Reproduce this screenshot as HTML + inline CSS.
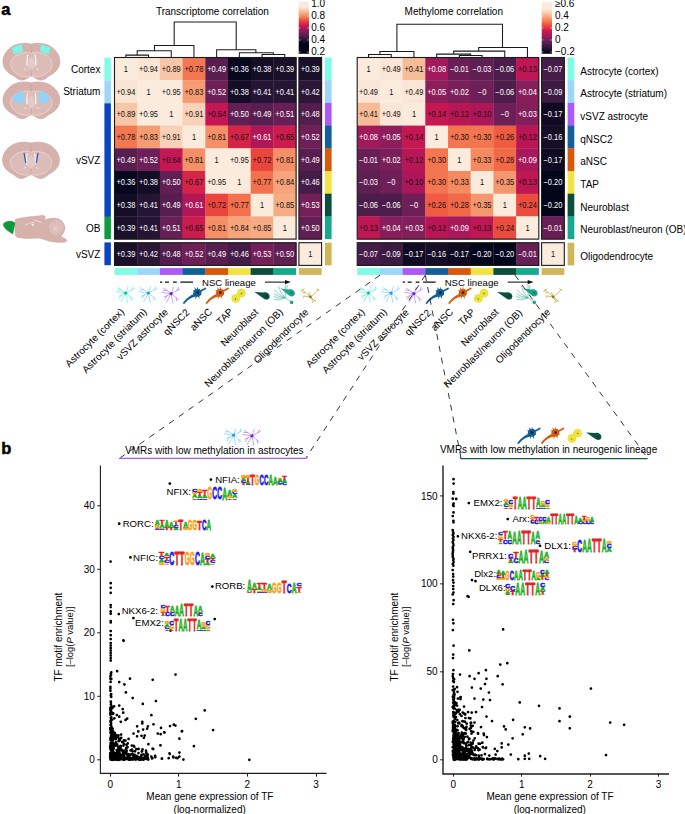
<!DOCTYPE html><html><head><meta charset="utf-8"><style>html,body{margin:0;padding:0;background:#fff;}svg{display:block;}</style></head><body><svg width="685" height="814" viewBox="0 0 685 814">
<style>text{font-family:"Liberation Sans",sans-serif;} .cv{font-size:8.5px;text-anchor:middle;} .cb{font-size:10px;fill:#000;} .t10{font-size:10px;fill:#000;} .lab{font-size:9.6px;fill:#000;}</style>
<rect width="685" height="814" fill="#fff"/>
<text x="1.2" y="15.4" style="font-size:16.5px;font-weight:bold" fill="#000" stroke="#000" stroke-width="0.5">a</text>
<text x="1.2" y="454.2" style="font-size:16.5px;font-weight:bold" fill="#000" stroke="#000" stroke-width="0.5">b</text>
<text x="212.4" y="15.2" class="t10" text-anchor="middle">Transcriptome correlation</text>
<text x="453.8" y="15.2" class="t10" text-anchor="middle">Methylome correlation</text>
<rect x="114.50" y="57.50" width="23.00" height="23.00" fill="#faebdd"/>
<rect x="137.20" y="57.50" width="23.00" height="23.00" fill="#f9e5d4"/>
<rect x="159.90" y="57.50" width="23.00" height="23.00" fill="#f7c6a6"/>
<rect x="182.60" y="57.50" width="23.00" height="23.00" fill="#f37852"/>
<rect x="205.30" y="57.50" width="23.00" height="23.00" fill="#591e50"/>
<rect x="228.00" y="57.50" width="23.00" height="23.00" fill="#07071d"/>
<rect x="250.70" y="57.50" width="23.00" height="23.00" fill="#130d25"/>
<rect x="273.40" y="57.50" width="23.00" height="23.00" fill="#1a102a"/>
<rect x="298.90" y="57.50" width="23.00" height="23.00" fill="#1a102a"/>
<rect x="114.50" y="80.20" width="23.00" height="23.00" fill="#f9e5d4"/>
<rect x="137.20" y="80.20" width="23.00" height="23.00" fill="#faebdd"/>
<rect x="159.90" y="80.20" width="23.00" height="23.00" fill="#faebdd"/>
<rect x="182.60" y="80.20" width="23.00" height="23.00" fill="#f69c73"/>
<rect x="205.30" y="80.20" width="23.00" height="23.00" fill="#6e1f57"/>
<rect x="228.00" y="80.20" width="23.00" height="23.00" fill="#130d25"/>
<rect x="250.70" y="80.20" width="23.00" height="23.00" fill="#251433"/>
<rect x="273.40" y="80.20" width="23.00" height="23.00" fill="#251433"/>
<rect x="298.90" y="80.20" width="23.00" height="23.00" fill="#2b1637"/>
<rect x="114.50" y="102.90" width="23.00" height="23.00" fill="#f7c6a6"/>
<rect x="137.20" y="102.90" width="23.00" height="23.00" fill="#faebdd"/>
<rect x="159.90" y="102.90" width="23.00" height="23.00" fill="#faebdd"/>
<rect x="182.60" y="102.90" width="23.00" height="23.00" fill="#f8d1b8"/>
<rect x="205.30" y="102.90" width="23.00" height="23.00" fill="#c41753"/>
<rect x="228.00" y="102.90" width="23.00" height="23.00" fill="#611f53"/>
<rect x="250.70" y="102.90" width="23.00" height="23.00" fill="#591e50"/>
<rect x="273.40" y="102.90" width="23.00" height="23.00" fill="#681f55"/>
<rect x="298.90" y="102.90" width="23.00" height="23.00" fill="#531e4d"/>
<rect x="114.50" y="125.60" width="23.00" height="23.00" fill="#f37852"/>
<rect x="137.20" y="125.60" width="23.00" height="23.00" fill="#f69c73"/>
<rect x="159.90" y="125.60" width="23.00" height="23.00" fill="#f8d1b8"/>
<rect x="182.60" y="125.60" width="23.00" height="23.00" fill="#faebdd"/>
<rect x="205.30" y="125.60" width="23.00" height="23.00" fill="#f58f66"/>
<rect x="228.00" y="125.60" width="23.00" height="23.00" fill="#d62449"/>
<rect x="250.70" y="125.60" width="23.00" height="23.00" fill="#af1759"/>
<rect x="273.40" y="125.60" width="23.00" height="23.00" fill="#cb1b4f"/>
<rect x="298.90" y="125.60" width="23.00" height="23.00" fill="#6e1f57"/>
<rect x="114.50" y="148.30" width="23.00" height="23.00" fill="#591e50"/>
<rect x="137.20" y="148.30" width="23.00" height="23.00" fill="#6e1f57"/>
<rect x="159.90" y="148.30" width="23.00" height="23.00" fill="#c41753"/>
<rect x="182.60" y="148.30" width="23.00" height="23.00" fill="#f58f66"/>
<rect x="205.30" y="148.30" width="23.00" height="23.00" fill="#faebdd"/>
<rect x="228.00" y="148.30" width="23.00" height="23.00" fill="#faebdd"/>
<rect x="250.70" y="148.30" width="23.00" height="23.00" fill="#eb463e"/>
<rect x="273.40" y="148.30" width="23.00" height="23.00" fill="#f58f66"/>
<rect x="298.90" y="148.30" width="23.00" height="23.00" fill="#591e50"/>
<rect x="114.50" y="171.00" width="23.00" height="23.00" fill="#07071d"/>
<rect x="137.20" y="171.00" width="23.00" height="23.00" fill="#130d25"/>
<rect x="159.90" y="171.00" width="23.00" height="23.00" fill="#611f53"/>
<rect x="182.60" y="171.00" width="23.00" height="23.00" fill="#d62449"/>
<rect x="205.30" y="171.00" width="23.00" height="23.00" fill="#faebdd"/>
<rect x="228.00" y="171.00" width="23.00" height="23.00" fill="#faebdd"/>
<rect x="250.70" y="171.00" width="23.00" height="23.00" fill="#f3714d"/>
<rect x="273.40" y="171.00" width="23.00" height="23.00" fill="#f6a47c"/>
<rect x="298.90" y="171.00" width="23.00" height="23.00" fill="#451c47"/>
<rect x="114.50" y="193.70" width="23.00" height="23.00" fill="#130d25"/>
<rect x="137.20" y="193.70" width="23.00" height="23.00" fill="#251433"/>
<rect x="159.90" y="193.70" width="23.00" height="23.00" fill="#591e50"/>
<rect x="182.60" y="193.70" width="23.00" height="23.00" fill="#af1759"/>
<rect x="205.30" y="193.70" width="23.00" height="23.00" fill="#eb463e"/>
<rect x="228.00" y="193.70" width="23.00" height="23.00" fill="#f3714d"/>
<rect x="250.70" y="193.70" width="23.00" height="23.00" fill="#faebdd"/>
<rect x="273.40" y="193.70" width="23.00" height="23.00" fill="#f6ab83"/>
<rect x="298.90" y="193.70" width="23.00" height="23.00" fill="#751f58"/>
<rect x="114.50" y="216.40" width="23.00" height="23.00" fill="#1a102a"/>
<rect x="137.20" y="216.40" width="23.00" height="23.00" fill="#251433"/>
<rect x="159.90" y="216.40" width="23.00" height="23.00" fill="#681f55"/>
<rect x="182.60" y="216.40" width="23.00" height="23.00" fill="#cb1b4f"/>
<rect x="205.30" y="216.40" width="23.00" height="23.00" fill="#f58f66"/>
<rect x="228.00" y="216.40" width="23.00" height="23.00" fill="#f6a47c"/>
<rect x="250.70" y="216.40" width="23.00" height="23.00" fill="#f6ab83"/>
<rect x="273.40" y="216.40" width="23.00" height="23.00" fill="#faebdd"/>
<rect x="298.90" y="216.40" width="23.00" height="23.00" fill="#611f53"/>
<rect x="114.50" y="242.70" width="23.00" height="23.00" fill="#1a102a"/>
<rect x="137.20" y="242.70" width="23.00" height="23.00" fill="#2b1637"/>
<rect x="159.90" y="242.70" width="23.00" height="23.00" fill="#531e4d"/>
<rect x="182.60" y="242.70" width="23.00" height="23.00" fill="#6e1f57"/>
<rect x="205.30" y="242.70" width="23.00" height="23.00" fill="#591e50"/>
<rect x="228.00" y="242.70" width="23.00" height="23.00" fill="#451c47"/>
<rect x="250.70" y="242.70" width="23.00" height="23.00" fill="#751f58"/>
<rect x="273.40" y="242.70" width="23.00" height="23.00" fill="#611f53"/>
<rect x="298.90" y="242.70" width="23.00" height="23.00" fill="#faebdd"/>
<text transform="translate(125.85 71.85) scale(0.88 1)" fill="#111" class="cv">1</text>
<text transform="translate(148.55 71.85) scale(0.88 1)" fill="#111" class="cv">+0.94</text>
<text transform="translate(171.25 71.85) scale(0.88 1)" fill="#111" class="cv">+0.89</text>
<text transform="translate(193.95 71.85) scale(0.88 1)" fill="#111" class="cv">+0.78</text>
<text transform="translate(216.65 71.85) scale(0.88 1)" fill="#fff" class="cv">+0.49</text>
<text transform="translate(239.35 71.85) scale(0.88 1)" fill="#fff" class="cv">+0.36</text>
<text transform="translate(262.05 71.85) scale(0.88 1)" fill="#fff" class="cv">+0.38</text>
<text transform="translate(284.75 71.85) scale(0.88 1)" fill="#fff" class="cv">+0.39</text>
<text transform="translate(310.25 71.85) scale(0.88 1)" fill="#fff" class="cv">+0.39</text>
<text transform="translate(125.85 94.55) scale(0.88 1)" fill="#111" class="cv">+0.94</text>
<text transform="translate(148.55 94.55) scale(0.88 1)" fill="#111" class="cv">1</text>
<text transform="translate(171.25 94.55) scale(0.88 1)" fill="#111" class="cv">+0.95</text>
<text transform="translate(193.95 94.55) scale(0.88 1)" fill="#111" class="cv">+0.83</text>
<text transform="translate(216.65 94.55) scale(0.88 1)" fill="#fff" class="cv">+0.52</text>
<text transform="translate(239.35 94.55) scale(0.88 1)" fill="#fff" class="cv">+0.38</text>
<text transform="translate(262.05 94.55) scale(0.88 1)" fill="#fff" class="cv">+0.41</text>
<text transform="translate(284.75 94.55) scale(0.88 1)" fill="#fff" class="cv">+0.41</text>
<text transform="translate(310.25 94.55) scale(0.88 1)" fill="#fff" class="cv">+0.42</text>
<text transform="translate(125.85 117.25) scale(0.88 1)" fill="#111" class="cv">+0.89</text>
<text transform="translate(148.55 117.25) scale(0.88 1)" fill="#111" class="cv">+0.95</text>
<text transform="translate(171.25 117.25) scale(0.88 1)" fill="#111" class="cv">1</text>
<text transform="translate(193.95 117.25) scale(0.88 1)" fill="#111" class="cv">+0.91</text>
<text transform="translate(216.65 117.25) scale(0.88 1)" fill="#111" class="cv">+0.64</text>
<text transform="translate(239.35 117.25) scale(0.88 1)" fill="#fff" class="cv">+0.50</text>
<text transform="translate(262.05 117.25) scale(0.88 1)" fill="#fff" class="cv">+0.49</text>
<text transform="translate(284.75 117.25) scale(0.88 1)" fill="#fff" class="cv">+0.51</text>
<text transform="translate(310.25 117.25) scale(0.88 1)" fill="#fff" class="cv">+0.48</text>
<text transform="translate(125.85 139.95) scale(0.88 1)" fill="#111" class="cv">+0.78</text>
<text transform="translate(148.55 139.95) scale(0.88 1)" fill="#111" class="cv">+0.83</text>
<text transform="translate(171.25 139.95) scale(0.88 1)" fill="#111" class="cv">+0.91</text>
<text transform="translate(193.95 139.95) scale(0.88 1)" fill="#111" class="cv">1</text>
<text transform="translate(216.65 139.95) scale(0.88 1)" fill="#111" class="cv">+0.81</text>
<text transform="translate(239.35 139.95) scale(0.88 1)" fill="#111" class="cv">+0.67</text>
<text transform="translate(262.05 139.95) scale(0.88 1)" fill="#fff" class="cv">+0.61</text>
<text transform="translate(284.75 139.95) scale(0.88 1)" fill="#111" class="cv">+0.65</text>
<text transform="translate(310.25 139.95) scale(0.88 1)" fill="#fff" class="cv">+0.52</text>
<text transform="translate(125.85 162.65) scale(0.88 1)" fill="#fff" class="cv">+0.49</text>
<text transform="translate(148.55 162.65) scale(0.88 1)" fill="#fff" class="cv">+0.52</text>
<text transform="translate(171.25 162.65) scale(0.88 1)" fill="#111" class="cv">+0.64</text>
<text transform="translate(193.95 162.65) scale(0.88 1)" fill="#111" class="cv">+0.81</text>
<text transform="translate(216.65 162.65) scale(0.88 1)" fill="#111" class="cv">1</text>
<text transform="translate(239.35 162.65) scale(0.88 1)" fill="#111" class="cv">+0.95</text>
<text transform="translate(262.05 162.65) scale(0.88 1)" fill="#111" class="cv">+0.72</text>
<text transform="translate(284.75 162.65) scale(0.88 1)" fill="#111" class="cv">+0.81</text>
<text transform="translate(310.25 162.65) scale(0.88 1)" fill="#fff" class="cv">+0.49</text>
<text transform="translate(125.85 185.35) scale(0.88 1)" fill="#fff" class="cv">+0.36</text>
<text transform="translate(148.55 185.35) scale(0.88 1)" fill="#fff" class="cv">+0.38</text>
<text transform="translate(171.25 185.35) scale(0.88 1)" fill="#fff" class="cv">+0.50</text>
<text transform="translate(193.95 185.35) scale(0.88 1)" fill="#111" class="cv">+0.67</text>
<text transform="translate(216.65 185.35) scale(0.88 1)" fill="#111" class="cv">+0.95</text>
<text transform="translate(239.35 185.35) scale(0.88 1)" fill="#111" class="cv">1</text>
<text transform="translate(262.05 185.35) scale(0.88 1)" fill="#111" class="cv">+0.77</text>
<text transform="translate(284.75 185.35) scale(0.88 1)" fill="#111" class="cv">+0.84</text>
<text transform="translate(310.25 185.35) scale(0.88 1)" fill="#fff" class="cv">+0.46</text>
<text transform="translate(125.85 208.05) scale(0.88 1)" fill="#fff" class="cv">+0.38</text>
<text transform="translate(148.55 208.05) scale(0.88 1)" fill="#fff" class="cv">+0.41</text>
<text transform="translate(171.25 208.05) scale(0.88 1)" fill="#fff" class="cv">+0.49</text>
<text transform="translate(193.95 208.05) scale(0.88 1)" fill="#fff" class="cv">+0.61</text>
<text transform="translate(216.65 208.05) scale(0.88 1)" fill="#111" class="cv">+0.72</text>
<text transform="translate(239.35 208.05) scale(0.88 1)" fill="#111" class="cv">+0.77</text>
<text transform="translate(262.05 208.05) scale(0.88 1)" fill="#111" class="cv">1</text>
<text transform="translate(284.75 208.05) scale(0.88 1)" fill="#111" class="cv">+0.85</text>
<text transform="translate(310.25 208.05) scale(0.88 1)" fill="#fff" class="cv">+0.53</text>
<text transform="translate(125.85 230.75) scale(0.88 1)" fill="#fff" class="cv">+0.39</text>
<text transform="translate(148.55 230.75) scale(0.88 1)" fill="#fff" class="cv">+0.41</text>
<text transform="translate(171.25 230.75) scale(0.88 1)" fill="#fff" class="cv">+0.51</text>
<text transform="translate(193.95 230.75) scale(0.88 1)" fill="#111" class="cv">+0.65</text>
<text transform="translate(216.65 230.75) scale(0.88 1)" fill="#111" class="cv">+0.81</text>
<text transform="translate(239.35 230.75) scale(0.88 1)" fill="#111" class="cv">+0.84</text>
<text transform="translate(262.05 230.75) scale(0.88 1)" fill="#111" class="cv">+0.85</text>
<text transform="translate(284.75 230.75) scale(0.88 1)" fill="#111" class="cv">1</text>
<text transform="translate(310.25 230.75) scale(0.88 1)" fill="#fff" class="cv">+0.50</text>
<text transform="translate(125.85 257.05) scale(0.88 1)" fill="#fff" class="cv">+0.39</text>
<text transform="translate(148.55 257.05) scale(0.88 1)" fill="#fff" class="cv">+0.42</text>
<text transform="translate(171.25 257.05) scale(0.88 1)" fill="#fff" class="cv">+0.48</text>
<text transform="translate(193.95 257.05) scale(0.88 1)" fill="#fff" class="cv">+0.52</text>
<text transform="translate(216.65 257.05) scale(0.88 1)" fill="#fff" class="cv">+0.49</text>
<text transform="translate(239.35 257.05) scale(0.88 1)" fill="#fff" class="cv">+0.46</text>
<text transform="translate(262.05 257.05) scale(0.88 1)" fill="#fff" class="cv">+0.53</text>
<text transform="translate(284.75 257.05) scale(0.88 1)" fill="#fff" class="cv">+0.50</text>
<text transform="translate(310.25 257.05) scale(0.88 1)" fill="#111" class="cv">1</text>
<rect x="114.50" y="57.50" width="181.60" height="181.60" fill="none" stroke="#1a1a1a" stroke-width="1.10"/>
<rect x="298.90" y="57.50" width="22.70" height="181.60" fill="none" stroke="#1a1a1a" stroke-width="1.10"/>
<rect x="114.50" y="242.70" width="181.60" height="22.70" fill="none" stroke="#1a1a1a" stroke-width="1.10"/>
<rect x="298.90" y="242.70" width="22.70" height="22.70" fill="none" stroke="#1a1a1a" stroke-width="1.10"/>
<rect x="114.50" y="268.10" width="23.00" height="6.8" fill="#7ffbe6"/>
<rect x="137.20" y="268.10" width="23.00" height="6.8" fill="#9dd6fb"/>
<rect x="159.90" y="268.10" width="23.00" height="6.8" fill="#ab5bf5"/>
<rect x="182.60" y="268.10" width="23.00" height="6.8" fill="#135f98"/>
<rect x="205.30" y="268.10" width="23.00" height="6.8" fill="#d75a0c"/>
<rect x="228.00" y="268.10" width="23.00" height="6.8" fill="#f2e243"/>
<rect x="250.70" y="268.10" width="23.00" height="6.8" fill="#0b4e3e"/>
<rect x="273.40" y="268.10" width="22.70" height="6.8" fill="#17a98e"/>
<rect x="298.90" y="268.10" width="22.70" height="6.8" fill="#d0b659"/>
<rect x="324.90" y="57.50" width="6.7" height="23.00" fill="#7ffbe6"/>
<rect x="324.90" y="80.20" width="6.7" height="23.00" fill="#9dd6fb"/>
<rect x="324.90" y="102.90" width="6.7" height="23.00" fill="#ab5bf5"/>
<rect x="324.90" y="125.60" width="6.7" height="23.00" fill="#135f98"/>
<rect x="324.90" y="148.30" width="6.7" height="23.00" fill="#d75a0c"/>
<rect x="324.90" y="171.00" width="6.7" height="23.00" fill="#f2e243"/>
<rect x="324.90" y="193.70" width="6.7" height="23.00" fill="#0b4e3e"/>
<rect x="324.90" y="216.40" width="6.7" height="22.70" fill="#17a98e"/>
<rect x="324.90" y="242.70" width="6.7" height="22.70" fill="#d0b659"/>
<rect x="357.20" y="57.50" width="23.00" height="23.00" fill="#faebdd"/>
<rect x="379.90" y="57.50" width="23.00" height="23.00" fill="#fae6d6"/>
<rect x="402.60" y="57.50" width="23.00" height="23.00" fill="#f6bb97"/>
<rect x="425.30" y="57.50" width="23.00" height="23.00" fill="#a11a5b"/>
<rect x="448.00" y="57.50" width="23.00" height="23.00" fill="#691f55"/>
<rect x="470.70" y="57.50" width="23.00" height="23.00" fill="#5e1f52"/>
<rect x="493.40" y="57.50" width="23.00" height="23.00" fill="#4c1d4b"/>
<rect x="516.10" y="57.50" width="23.00" height="23.00" fill="#bf1654"/>
<rect x="541.60" y="57.50" width="23.00" height="23.00" fill="#461c48"/>
<rect x="357.20" y="80.20" width="23.00" height="23.00" fill="#fae6d6"/>
<rect x="379.90" y="80.20" width="23.00" height="23.00" fill="#faebdd"/>
<rect x="402.60" y="80.20" width="23.00" height="23.00" fill="#fae6d6"/>
<rect x="425.30" y="80.20" width="23.00" height="23.00" fill="#8e1d5b"/>
<rect x="448.00" y="80.20" width="23.00" height="23.00" fill="#7b1f59"/>
<rect x="470.70" y="80.20" width="23.00" height="23.00" fill="#6e1f57"/>
<rect x="493.40" y="80.20" width="23.00" height="23.00" fill="#4c1d4b"/>
<rect x="516.10" y="80.20" width="23.00" height="23.00" fill="#871e5b"/>
<rect x="541.60" y="80.20" width="23.00" height="23.00" fill="#3c1a42"/>
<rect x="357.20" y="102.90" width="23.00" height="23.00" fill="#f6bb97"/>
<rect x="379.90" y="102.90" width="23.00" height="23.00" fill="#fae6d6"/>
<rect x="402.60" y="102.90" width="23.00" height="23.00" fill="#faebdd"/>
<rect x="425.30" y="102.90" width="23.00" height="23.00" fill="#c51852"/>
<rect x="448.00" y="102.90" width="23.00" height="23.00" fill="#ba1656"/>
<rect x="470.70" y="102.90" width="23.00" height="23.00" fill="#ad1759"/>
<rect x="493.40" y="102.90" width="23.00" height="23.00" fill="#6e1f57"/>
<rect x="516.10" y="102.90" width="23.00" height="23.00" fill="#821e5a"/>
<rect x="541.60" y="102.90" width="23.00" height="23.00" fill="#100b23"/>
<rect x="357.20" y="125.60" width="23.00" height="23.00" fill="#a11a5b"/>
<rect x="379.90" y="125.60" width="23.00" height="23.00" fill="#8e1d5b"/>
<rect x="402.60" y="125.60" width="23.00" height="23.00" fill="#c51852"/>
<rect x="425.30" y="125.60" width="23.00" height="23.00" fill="#faebdd"/>
<rect x="448.00" y="125.60" width="23.00" height="23.00" fill="#f37651"/>
<rect x="470.70" y="125.60" width="23.00" height="23.00" fill="#f37651"/>
<rect x="493.40" y="125.60" width="23.00" height="23.00" fill="#f05c42"/>
<rect x="516.10" y="125.60" width="23.00" height="23.00" fill="#ba1656"/>
<rect x="541.60" y="125.60" width="23.00" height="23.00" fill="#160e27"/>
<rect x="357.20" y="148.30" width="23.00" height="23.00" fill="#691f55"/>
<rect x="379.90" y="148.30" width="23.00" height="23.00" fill="#7b1f59"/>
<rect x="402.60" y="148.30" width="23.00" height="23.00" fill="#ba1656"/>
<rect x="425.30" y="148.30" width="23.00" height="23.00" fill="#f37651"/>
<rect x="448.00" y="148.30" width="23.00" height="23.00" fill="#faebdd"/>
<rect x="470.70" y="148.30" width="23.00" height="23.00" fill="#f58a61"/>
<rect x="493.40" y="148.30" width="23.00" height="23.00" fill="#f26948"/>
<rect x="516.10" y="148.30" width="23.00" height="23.00" fill="#a8185a"/>
<rect x="541.60" y="148.30" width="23.00" height="23.00" fill="#100b23"/>
<rect x="357.20" y="171.00" width="23.00" height="23.00" fill="#5e1f52"/>
<rect x="379.90" y="171.00" width="23.00" height="23.00" fill="#6e1f57"/>
<rect x="402.60" y="171.00" width="23.00" height="23.00" fill="#ad1759"/>
<rect x="425.30" y="171.00" width="23.00" height="23.00" fill="#f37651"/>
<rect x="448.00" y="171.00" width="23.00" height="23.00" fill="#f58a61"/>
<rect x="470.70" y="171.00" width="23.00" height="23.00" fill="#faebdd"/>
<rect x="493.40" y="171.00" width="23.00" height="23.00" fill="#f5976e"/>
<rect x="516.10" y="171.00" width="23.00" height="23.00" fill="#bf1654"/>
<rect x="541.60" y="171.00" width="23.00" height="23.00" fill="#03051a"/>
<rect x="357.20" y="193.70" width="23.00" height="23.00" fill="#4c1d4b"/>
<rect x="379.90" y="193.70" width="23.00" height="23.00" fill="#4c1d4b"/>
<rect x="402.60" y="193.70" width="23.00" height="23.00" fill="#6e1f57"/>
<rect x="425.30" y="193.70" width="23.00" height="23.00" fill="#f05c42"/>
<rect x="448.00" y="193.70" width="23.00" height="23.00" fill="#f26948"/>
<rect x="470.70" y="193.70" width="23.00" height="23.00" fill="#f5976e"/>
<rect x="493.40" y="193.70" width="23.00" height="23.00" fill="#faebdd"/>
<rect x="516.10" y="193.70" width="23.00" height="23.00" fill="#ec4c3e"/>
<rect x="541.60" y="193.70" width="23.00" height="23.00" fill="#03051a"/>
<rect x="357.20" y="216.40" width="23.00" height="23.00" fill="#bf1654"/>
<rect x="379.90" y="216.40" width="23.00" height="23.00" fill="#871e5b"/>
<rect x="402.60" y="216.40" width="23.00" height="23.00" fill="#821e5a"/>
<rect x="425.30" y="216.40" width="23.00" height="23.00" fill="#ba1656"/>
<rect x="448.00" y="216.40" width="23.00" height="23.00" fill="#a8185a"/>
<rect x="470.70" y="216.40" width="23.00" height="23.00" fill="#bf1654"/>
<rect x="493.40" y="216.40" width="23.00" height="23.00" fill="#ec4c3e"/>
<rect x="516.10" y="216.40" width="23.00" height="23.00" fill="#faebdd"/>
<rect x="541.60" y="216.40" width="23.00" height="23.00" fill="#691f55"/>
<rect x="357.20" y="242.70" width="23.00" height="23.00" fill="#461c48"/>
<rect x="379.90" y="242.70" width="23.00" height="23.00" fill="#3c1a42"/>
<rect x="402.60" y="242.70" width="23.00" height="23.00" fill="#100b23"/>
<rect x="425.30" y="242.70" width="23.00" height="23.00" fill="#160e27"/>
<rect x="448.00" y="242.70" width="23.00" height="23.00" fill="#100b23"/>
<rect x="470.70" y="242.70" width="23.00" height="23.00" fill="#03051a"/>
<rect x="493.40" y="242.70" width="23.00" height="23.00" fill="#03051a"/>
<rect x="516.10" y="242.70" width="23.00" height="23.00" fill="#691f55"/>
<rect x="541.60" y="242.70" width="23.00" height="23.00" fill="#faebdd"/>
<text transform="translate(368.55 71.85) scale(0.88 1)" fill="#111" class="cv">1</text>
<text transform="translate(391.25 71.85) scale(0.88 1)" fill="#111" class="cv">+0.49</text>
<text transform="translate(413.95 71.85) scale(0.88 1)" fill="#111" class="cv">+0.41</text>
<text transform="translate(436.65 71.85) scale(0.88 1)" fill="#fff" class="cv">+0.08</text>
<text transform="translate(459.35 71.85) scale(0.88 1)" fill="#fff" class="cv">−0.01</text>
<text transform="translate(482.05 71.85) scale(0.88 1)" fill="#fff" class="cv">−0.03</text>
<text transform="translate(504.75 71.85) scale(0.88 1)" fill="#fff" class="cv">−0.06</text>
<text transform="translate(527.45 71.85) scale(0.88 1)" fill="#111" class="cv">+0.13</text>
<text transform="translate(552.95 71.85) scale(0.88 1)" fill="#fff" class="cv">−0.07</text>
<text transform="translate(368.55 94.55) scale(0.88 1)" fill="#111" class="cv">+0.49</text>
<text transform="translate(391.25 94.55) scale(0.88 1)" fill="#111" class="cv">1</text>
<text transform="translate(413.95 94.55) scale(0.88 1)" fill="#111" class="cv">+0.49</text>
<text transform="translate(436.65 94.55) scale(0.88 1)" fill="#fff" class="cv">+0.05</text>
<text transform="translate(459.35 94.55) scale(0.88 1)" fill="#fff" class="cv">+0.02</text>
<text transform="translate(482.05 94.55) scale(0.88 1)" fill="#fff" class="cv">−0</text>
<text transform="translate(504.75 94.55) scale(0.88 1)" fill="#fff" class="cv">−0.06</text>
<text transform="translate(527.45 94.55) scale(0.88 1)" fill="#fff" class="cv">+0.04</text>
<text transform="translate(552.95 94.55) scale(0.88 1)" fill="#fff" class="cv">−0.09</text>
<text transform="translate(368.55 117.25) scale(0.88 1)" fill="#111" class="cv">+0.41</text>
<text transform="translate(391.25 117.25) scale(0.88 1)" fill="#111" class="cv">+0.49</text>
<text transform="translate(413.95 117.25) scale(0.88 1)" fill="#111" class="cv">1</text>
<text transform="translate(436.65 117.25) scale(0.88 1)" fill="#111" class="cv">+0.14</text>
<text transform="translate(459.35 117.25) scale(0.88 1)" fill="#111" class="cv">+0.12</text>
<text transform="translate(482.05 117.25) scale(0.88 1)" fill="#111" class="cv">+0.10</text>
<text transform="translate(504.75 117.25) scale(0.88 1)" fill="#fff" class="cv">−0</text>
<text transform="translate(527.45 117.25) scale(0.88 1)" fill="#fff" class="cv">+0.03</text>
<text transform="translate(552.95 117.25) scale(0.88 1)" fill="#fff" class="cv">−0.17</text>
<text transform="translate(368.55 139.95) scale(0.88 1)" fill="#fff" class="cv">+0.08</text>
<text transform="translate(391.25 139.95) scale(0.88 1)" fill="#fff" class="cv">+0.05</text>
<text transform="translate(413.95 139.95) scale(0.88 1)" fill="#111" class="cv">+0.14</text>
<text transform="translate(436.65 139.95) scale(0.88 1)" fill="#111" class="cv">1</text>
<text transform="translate(459.35 139.95) scale(0.88 1)" fill="#111" class="cv">+0.30</text>
<text transform="translate(482.05 139.95) scale(0.88 1)" fill="#111" class="cv">+0.30</text>
<text transform="translate(504.75 139.95) scale(0.88 1)" fill="#111" class="cv">+0.26</text>
<text transform="translate(527.45 139.95) scale(0.88 1)" fill="#111" class="cv">+0.12</text>
<text transform="translate(552.95 139.95) scale(0.88 1)" fill="#fff" class="cv">−0.16</text>
<text transform="translate(368.55 162.65) scale(0.88 1)" fill="#fff" class="cv">−0.01</text>
<text transform="translate(391.25 162.65) scale(0.88 1)" fill="#fff" class="cv">+0.02</text>
<text transform="translate(413.95 162.65) scale(0.88 1)" fill="#111" class="cv">+0.12</text>
<text transform="translate(436.65 162.65) scale(0.88 1)" fill="#111" class="cv">+0.30</text>
<text transform="translate(459.35 162.65) scale(0.88 1)" fill="#111" class="cv">1</text>
<text transform="translate(482.05 162.65) scale(0.88 1)" fill="#111" class="cv">+0.33</text>
<text transform="translate(504.75 162.65) scale(0.88 1)" fill="#111" class="cv">+0.28</text>
<text transform="translate(527.45 162.65) scale(0.88 1)" fill="#fff" class="cv">+0.09</text>
<text transform="translate(552.95 162.65) scale(0.88 1)" fill="#fff" class="cv">−0.17</text>
<text transform="translate(368.55 185.35) scale(0.88 1)" fill="#fff" class="cv">−0.03</text>
<text transform="translate(391.25 185.35) scale(0.88 1)" fill="#fff" class="cv">−0</text>
<text transform="translate(413.95 185.35) scale(0.88 1)" fill="#111" class="cv">+0.10</text>
<text transform="translate(436.65 185.35) scale(0.88 1)" fill="#111" class="cv">+0.30</text>
<text transform="translate(459.35 185.35) scale(0.88 1)" fill="#111" class="cv">+0.33</text>
<text transform="translate(482.05 185.35) scale(0.88 1)" fill="#111" class="cv">1</text>
<text transform="translate(504.75 185.35) scale(0.88 1)" fill="#111" class="cv">+0.35</text>
<text transform="translate(527.45 185.35) scale(0.88 1)" fill="#111" class="cv">+0.13</text>
<text transform="translate(552.95 185.35) scale(0.88 1)" fill="#fff" class="cv">−0.20</text>
<text transform="translate(368.55 208.05) scale(0.88 1)" fill="#fff" class="cv">−0.06</text>
<text transform="translate(391.25 208.05) scale(0.88 1)" fill="#fff" class="cv">−0.06</text>
<text transform="translate(413.95 208.05) scale(0.88 1)" fill="#fff" class="cv">−0</text>
<text transform="translate(436.65 208.05) scale(0.88 1)" fill="#111" class="cv">+0.26</text>
<text transform="translate(459.35 208.05) scale(0.88 1)" fill="#111" class="cv">+0.28</text>
<text transform="translate(482.05 208.05) scale(0.88 1)" fill="#111" class="cv">+0.35</text>
<text transform="translate(504.75 208.05) scale(0.88 1)" fill="#111" class="cv">1</text>
<text transform="translate(527.45 208.05) scale(0.88 1)" fill="#111" class="cv">+0.24</text>
<text transform="translate(552.95 208.05) scale(0.88 1)" fill="#fff" class="cv">−0.20</text>
<text transform="translate(368.55 230.75) scale(0.88 1)" fill="#111" class="cv">+0.13</text>
<text transform="translate(391.25 230.75) scale(0.88 1)" fill="#fff" class="cv">+0.04</text>
<text transform="translate(413.95 230.75) scale(0.88 1)" fill="#fff" class="cv">+0.03</text>
<text transform="translate(436.65 230.75) scale(0.88 1)" fill="#111" class="cv">+0.12</text>
<text transform="translate(459.35 230.75) scale(0.88 1)" fill="#fff" class="cv">+0.09</text>
<text transform="translate(482.05 230.75) scale(0.88 1)" fill="#111" class="cv">+0.13</text>
<text transform="translate(504.75 230.75) scale(0.88 1)" fill="#111" class="cv">+0.24</text>
<text transform="translate(527.45 230.75) scale(0.88 1)" fill="#111" class="cv">1</text>
<text transform="translate(552.95 230.75) scale(0.88 1)" fill="#fff" class="cv">−0.01</text>
<text transform="translate(368.55 257.05) scale(0.88 1)" fill="#fff" class="cv">−0.07</text>
<text transform="translate(391.25 257.05) scale(0.88 1)" fill="#fff" class="cv">−0.09</text>
<text transform="translate(413.95 257.05) scale(0.88 1)" fill="#fff" class="cv">−0.17</text>
<text transform="translate(436.65 257.05) scale(0.88 1)" fill="#fff" class="cv">−0.16</text>
<text transform="translate(459.35 257.05) scale(0.88 1)" fill="#fff" class="cv">−0.17</text>
<text transform="translate(482.05 257.05) scale(0.88 1)" fill="#fff" class="cv">−0.20</text>
<text transform="translate(504.75 257.05) scale(0.88 1)" fill="#fff" class="cv">−0.20</text>
<text transform="translate(527.45 257.05) scale(0.88 1)" fill="#fff" class="cv">−0.01</text>
<text transform="translate(552.95 257.05) scale(0.88 1)" fill="#111" class="cv">1</text>
<rect x="357.20" y="57.50" width="181.60" height="181.60" fill="none" stroke="#1a1a1a" stroke-width="1.10"/>
<rect x="541.60" y="57.50" width="22.70" height="181.60" fill="none" stroke="#1a1a1a" stroke-width="1.10"/>
<rect x="357.20" y="242.70" width="181.60" height="22.70" fill="none" stroke="#1a1a1a" stroke-width="1.10"/>
<rect x="541.60" y="242.70" width="22.70" height="22.70" fill="none" stroke="#1a1a1a" stroke-width="1.10"/>
<rect x="357.20" y="268.10" width="23.00" height="6.8" fill="#7ffbe6"/>
<rect x="379.90" y="268.10" width="23.00" height="6.8" fill="#9dd6fb"/>
<rect x="402.60" y="268.10" width="23.00" height="6.8" fill="#ab5bf5"/>
<rect x="425.30" y="268.10" width="23.00" height="6.8" fill="#135f98"/>
<rect x="448.00" y="268.10" width="23.00" height="6.8" fill="#d75a0c"/>
<rect x="470.70" y="268.10" width="23.00" height="6.8" fill="#f2e243"/>
<rect x="493.40" y="268.10" width="23.00" height="6.8" fill="#0b4e3e"/>
<rect x="516.10" y="268.10" width="22.70" height="6.8" fill="#17a98e"/>
<rect x="541.60" y="268.10" width="22.70" height="6.8" fill="#d0b659"/>
<rect x="567.60" y="57.50" width="6.7" height="23.00" fill="#7ffbe6"/>
<rect x="567.60" y="80.20" width="6.7" height="23.00" fill="#9dd6fb"/>
<rect x="567.60" y="102.90" width="6.7" height="23.00" fill="#ab5bf5"/>
<rect x="567.60" y="125.60" width="6.7" height="23.00" fill="#135f98"/>
<rect x="567.60" y="148.30" width="6.7" height="23.00" fill="#d75a0c"/>
<rect x="567.60" y="171.00" width="6.7" height="23.00" fill="#f2e243"/>
<rect x="567.60" y="193.70" width="6.7" height="23.00" fill="#0b4e3e"/>
<rect x="567.60" y="216.40" width="6.7" height="22.70" fill="#17a98e"/>
<rect x="567.60" y="242.70" width="6.7" height="22.70" fill="#d0b659"/>
<path d="M125.85 57.50V55.10H148.55V57.50M137.20 55.10V50.80H171.25V57.50M154.50 50.80V45.40H193.95V57.50M262.05 57.50V54.40H284.75V57.50M239.35 57.50V52.70H273.40V54.40M216.65 57.50V49.70H255.90V52.70M174.20 45.40V22.00H236.20V49.70" fill="none" stroke="#1a1a1a" stroke-width="1.05"/>
<path d="M368.55 57.50V54.40H391.25V57.50M379.90 54.40V51.50H413.95V57.50M459.35 57.50V55.40H482.05V57.50M436.65 57.50V54.10H470.70V55.40M453.67 54.10V51.10H504.75V57.50M478.70 51.10V47.40H527.45V57.50M396.90 51.50V24.30H502.50V47.40" fill="none" stroke="#1a1a1a" stroke-width="1.05"/>
<defs><linearGradient id="g298" x1="0" y1="0" x2="0" y2="1"><stop offset="0.000" stop-color="#faebdd"/><stop offset="0.025" stop-color="#faebdd"/><stop offset="0.050" stop-color="#faebdd"/><stop offset="0.075" stop-color="#faebdd"/><stop offset="0.100" stop-color="#faebdd"/><stop offset="0.125" stop-color="#f9ddc9"/><stop offset="0.150" stop-color="#f7d0b5"/><stop offset="0.175" stop-color="#f7c2a2"/><stop offset="0.200" stop-color="#f6b48f"/><stop offset="0.225" stop-color="#f6a67e"/><stop offset="0.250" stop-color="#f5966c"/><stop offset="0.275" stop-color="#f4865e"/><stop offset="0.300" stop-color="#f37651"/><stop offset="0.325" stop-color="#f16646"/><stop offset="0.350" stop-color="#ee543f"/><stop offset="0.375" stop-color="#e9423e"/><stop offset="0.400" stop-color="#e13342"/><stop offset="0.425" stop-color="#d72549"/><stop offset="0.450" stop-color="#cb1b4f"/><stop offset="0.475" stop-color="#bd1655"/><stop offset="0.500" stop-color="#af1759"/><stop offset="0.525" stop-color="#9f1a5b"/><stop offset="0.550" stop-color="#901d5b"/><stop offset="0.575" stop-color="#811e5a"/><stop offset="0.600" stop-color="#711f57"/><stop offset="0.625" stop-color="#631f53"/><stop offset="0.650" stop-color="#541e4e"/><stop offset="0.675" stop-color="#461c48"/><stop offset="0.700" stop-color="#381a40"/><stop offset="0.725" stop-color="#2b1637"/><stop offset="0.750" stop-color="#1e122d"/><stop offset="0.775" stop-color="#110c24"/><stop offset="0.800" stop-color="#04051a"/><stop offset="0.825" stop-color="#03051a"/><stop offset="0.850" stop-color="#03051a"/><stop offset="0.875" stop-color="#03051a"/><stop offset="0.900" stop-color="#03051a"/><stop offset="0.925" stop-color="#03051a"/><stop offset="0.950" stop-color="#03051a"/><stop offset="0.975" stop-color="#03051a"/><stop offset="1.000" stop-color="#03051a"/></linearGradient></defs>
<rect x="298.70" y="2.00" width="10.3" height="51.80" fill="url(#g298)"/>
<line x1="298.70" x2="309.00" y1="4.00" y2="4.00" stroke="#fff" stroke-width="0.8" stroke-dasharray="1.6 6.9" opacity="0.7"/>
<text x="311.20" y="7.00" class="cb">1.0</text>
<line x1="298.70" x2="309.00" y1="16.00" y2="16.00" stroke="#fff" stroke-width="0.8" stroke-dasharray="1.6 6.9" opacity="0.7"/>
<text x="311.20" y="19.00" class="cb">0.8</text>
<line x1="298.70" x2="309.00" y1="28.00" y2="28.00" stroke="#fff" stroke-width="0.8" stroke-dasharray="1.6 6.9" opacity="0.7"/>
<text x="311.20" y="31.00" class="cb">0.6</text>
<line x1="298.70" x2="309.00" y1="40.00" y2="40.00" stroke="#fff" stroke-width="0.8" stroke-dasharray="1.6 6.9" opacity="0.7"/>
<text x="311.20" y="43.00" class="cb">0.4</text>
<line x1="298.70" x2="309.00" y1="52.00" y2="52.00" stroke="#fff" stroke-width="0.8" stroke-dasharray="1.6 6.9" opacity="0.7"/>
<text x="311.20" y="55.00" class="cb">0.2</text>
<defs><linearGradient id="g541" x1="0" y1="0" x2="0" y2="1"><stop offset="0.000" stop-color="#faebdd"/><stop offset="0.025" stop-color="#faebdd"/><stop offset="0.050" stop-color="#faebdd"/><stop offset="0.075" stop-color="#faebdd"/><stop offset="0.100" stop-color="#faebdd"/><stop offset="0.125" stop-color="#faebdd"/><stop offset="0.150" stop-color="#fae6d6"/><stop offset="0.175" stop-color="#f8dcc7"/><stop offset="0.200" stop-color="#f7d0b5"/><stop offset="0.225" stop-color="#f7c6a6"/><stop offset="0.250" stop-color="#f6b995"/><stop offset="0.275" stop-color="#f6ad85"/><stop offset="0.300" stop-color="#f6a178"/><stop offset="0.325" stop-color="#f5946b"/><stop offset="0.350" stop-color="#f58860"/><stop offset="0.375" stop-color="#f47a54"/><stop offset="0.400" stop-color="#f26b49"/><stop offset="0.425" stop-color="#f05e42"/><stop offset="0.450" stop-color="#ed4e3e"/><stop offset="0.475" stop-color="#e8403e"/><stop offset="0.500" stop-color="#e13342"/><stop offset="0.525" stop-color="#d82748"/><stop offset="0.550" stop-color="#cf1e4d"/><stop offset="0.575" stop-color="#c41753"/><stop offset="0.600" stop-color="#b91657"/><stop offset="0.625" stop-color="#ab185a"/><stop offset="0.650" stop-color="#9e1a5b"/><stop offset="0.675" stop-color="#921c5b"/><stop offset="0.700" stop-color="#841e5a"/><stop offset="0.725" stop-color="#781f59"/><stop offset="0.750" stop-color="#6b1f56"/><stop offset="0.775" stop-color="#5e1f52"/><stop offset="0.800" stop-color="#531e4d"/><stop offset="0.825" stop-color="#461c48"/><stop offset="0.850" stop-color="#3c1a42"/><stop offset="0.875" stop-color="#30173a"/><stop offset="0.900" stop-color="#241432"/><stop offset="0.925" stop-color="#1a102a"/><stop offset="0.950" stop-color="#0e0b22"/><stop offset="0.975" stop-color="#05061b"/><stop offset="1.000" stop-color="#03051a"/></linearGradient></defs>
<rect x="541.70" y="2.00" width="10.3" height="51.80" fill="url(#g541)"/>
<line x1="541.70" x2="552.00" y1="4.00" y2="4.00" stroke="#fff" stroke-width="0.8" stroke-dasharray="1.6 6.9" opacity="0.7"/>
<text x="555.00" y="7.00" class="cb">≥0.6</text>
<line x1="541.70" x2="552.00" y1="16.00" y2="16.00" stroke="#fff" stroke-width="0.8" stroke-dasharray="1.6 6.9" opacity="0.7"/>
<text x="555.00" y="19.00" class="cb">0.4</text>
<line x1="541.70" x2="552.00" y1="28.00" y2="28.00" stroke="#fff" stroke-width="0.8" stroke-dasharray="1.6 6.9" opacity="0.7"/>
<text x="555.00" y="31.00" class="cb">0.2</text>
<line x1="541.70" x2="552.00" y1="40.00" y2="40.00" stroke="#fff" stroke-width="0.8" stroke-dasharray="1.6 6.9" opacity="0.7"/>
<text x="555.00" y="43.00" class="cb">0</text>
<line x1="541.70" x2="552.00" y1="52.00" y2="52.00" stroke="#fff" stroke-width="0.8" stroke-dasharray="1.6 6.9" opacity="0.7"/>
<text x="555.00" y="55.00" class="cb">−0.2</text>
<text x="580.3" y="74.55" class="t10">Astrocyte (cortex)</text>
<text x="580.3" y="97.25" class="t10">Astrocyte (striatum)</text>
<text x="580.3" y="119.95" class="t10">vSVZ astrocyte</text>
<text x="580.3" y="142.65" class="t10">qNSC2</text>
<text x="580.3" y="165.35" class="t10">aNSC</text>
<text x="580.3" y="188.05" class="t10">TAP</text>
<text x="580.3" y="210.75" class="t10">Neuroblast</text>
<text x="580.3" y="233.45" class="t10">Neuroblast/neuron (OB)</text>
<text x="580.3" y="259.75" class="t10">Oligodendrocyte</text>
<rect x="104.4" y="57.7" width="6.5" height="22.9" fill="#7ffbe6"/>
<rect x="104.4" y="80.5" width="6.5" height="22.9" fill="#9dd6fb"/>
<rect x="104.4" y="103.3" width="6.5" height="113.6" fill="#0b45bf"/>
<rect x="104.4" y="216.8" width="6.5" height="22.4" fill="#0b9e3c"/>
<rect x="104.4" y="242.4" width="6.5" height="22.8" fill="#0b45bf"/>
<text x="100.4" y="72.50" class="t10" text-anchor="end">Cortex</text>
<text x="100.4" y="95.20" class="t10" text-anchor="end">Striatum</text>
<text x="100.4" y="163.60" class="t10" text-anchor="end">vSVZ</text>
<text x="100.4" y="231.60" class="t10" text-anchor="end">OB</text>
<text x="100.4" y="257.50" class="t10" text-anchor="end">vSVZ</text>
<text transform="translate(124.75 312.40) rotate(-45)" class="t10" text-anchor="end">Astrocyte (cortex)</text>
<text transform="translate(147.45 312.40) rotate(-45)" class="t10" text-anchor="end">Astrocyte (striatum)</text>
<text transform="translate(168.75 312.70) rotate(-45)" class="t10" text-anchor="end">vSVZ astrocyte</text>
<text transform="translate(190.15 313.10) rotate(-45)" class="t10" text-anchor="end">qNSC2</text>
<text transform="translate(212.75 312.50) rotate(-45)" class="t10" text-anchor="end">aNSC</text>
<text transform="translate(233.85 312.20) rotate(-45)" class="t10" text-anchor="end">TAP</text>
<text transform="translate(258.95 312.90) rotate(-45)" class="t10" text-anchor="end">Neuroblast</text>
<text transform="translate(283.65 312.60) rotate(-45)" class="t10" text-anchor="end">Neuroblast/neuron (OB)</text>
<text transform="translate(309.15 312.70) rotate(-45)" class="t10" text-anchor="end">Oligodendrocyte</text>
<text transform="translate(365.45 312.70) rotate(-45)" class="t10" text-anchor="end">Astrocyte (cortex)</text>
<text transform="translate(387.55 312.70) rotate(-45)" class="t10" text-anchor="end">Astrocyte (striatum)</text>
<text transform="translate(409.55 313.10) rotate(-45)" class="t10" text-anchor="end">vSVZ astrocyte</text>
<text transform="translate(431.65 313.50) rotate(-45)" class="t10" text-anchor="end">qNSC2</text>
<text transform="translate(453.85 312.70) rotate(-45)" class="t10" text-anchor="end">aNSC</text>
<text transform="translate(475.75 312.80) rotate(-45)" class="t10" text-anchor="end">TAP</text>
<text transform="translate(499.25 312.80) rotate(-45)" class="t10" text-anchor="end">Neuroblast</text>
<text transform="translate(522.85 313.40) rotate(-45)" class="t10" text-anchor="end">Neuroblast/neuron (OB)</text>
<text transform="translate(550.95 312.70) rotate(-45)" class="t10" text-anchor="end">Oligodendrocyte</text>
<path d="M160.00 282.1H162.30M165.00 282.1H169.00M173.00 282.1H176.80M180.40 282.1H193.00" stroke="#111" stroke-width="1.05" fill="none"/>
<text x="202.00" y="285.6" class="t10" style="font-size:9.6px">NSC lineage</text>
<line x1="265.00" x2="286.00" y1="282.1" y2="282.1" stroke="#111" stroke-width="1.05"/>
<path d="M285.00 279.9L290.80 282.1L285.00 284.3Z" fill="#111"/>
<path d="M402.70 282.1H405.00M407.70 282.1H411.70M415.70 282.1H419.50M423.10 282.1H435.70" stroke="#111" stroke-width="1.05" fill="none"/>
<text x="444.70" y="285.6" class="t10" style="font-size:9.6px">NSC lineage</text>
<line x1="507.70" x2="528.70" y1="282.1" y2="282.1" stroke="#111" stroke-width="1.05"/>
<path d="M527.70 279.9L533.50 282.1L527.70 284.3Z" fill="#111"/>
<g transform="translate(125.75 293.00) scale(1.00)"><path d="M0 0L-4 -3L-7.6 -5.4M-4.2 -3.1L-8.3 -3.4M0 0L-5 -0.6L-9.3 -1.3M0 0L-4 2L-7.2 3.4M-4 2L-6.4 5.6M0 0L-2.2 4.2L-4.8 8.6M0 0L0.9 5L1.8 9.4M0 0L4 3.4L7.4 6.3M5.2 4.3L5.6 7.2M0 0L4.2 -2.1L8.5 -4.4M6.2 -3.1L7.3 -6.2M0 0L1.4 -3.1L2.2 -6.2" fill="none" stroke="#62efd8" stroke-width="0.8" stroke-linecap="round" opacity="0.9"/><circle r="1.6" fill="#17b39a"/></g>
<g transform="translate(148.35 293.00) scale(1.00)"><path d="M0 0L-4 -3L-7.6 -5.4M-4.2 -3.1L-8.3 -3.4M0 0L-5 -0.6L-9.3 -1.3M0 0L-4 2L-7.2 3.4M-4 2L-6.4 5.6M0 0L-2.2 4.2L-4.8 8.6M0 0L0.9 5L1.8 9.4M0 0L4 3.4L7.4 6.3M5.2 4.3L5.6 7.2M0 0L4.2 -2.1L8.5 -4.4M6.2 -3.1L7.3 -6.2M0 0L1.4 -3.1L2.2 -6.2" fill="none" stroke="#82cdf9" stroke-width="0.8" stroke-linecap="round" opacity="0.9"/><circle r="1.6" fill="#2196f3"/></g>
<g transform="translate(171.15 293.60) scale(1.00)"><path d="M0 0L-4 -3L-7.6 -5.4M-4.2 -3.1L-8.3 -3.4M0 0L-5 -0.6L-9.3 -1.3M0 0L-4 2L-7.2 3.4M-4 2L-6.4 5.6M0 0L-2.2 4.2L-4.8 8.6M0 0L0.9 5L1.8 9.4M0 0L4 3.4L7.4 6.3M5.2 4.3L5.6 7.2M0 0L4.2 -2.1L8.5 -4.4M6.2 -3.1L7.3 -6.2M0 0L1.4 -3.1L2.2 -6.2" fill="none" stroke="#b67df7" stroke-width="0.8" stroke-linecap="round" opacity="0.9"/><circle r="1.6" fill="#7a1fd0"/></g>
<g transform="translate(197.45 292.80)">
<path d="M-1.5 0.6C-7 1.8 -11 5.2 -14.8 10.4L-13.2 11.2C-9.6 6.8 -6 4.4 -0.5 3.4Z" fill="#135f98"/>
<ellipse rx="4.0" ry="3.8" fill="#135f98"/>
<path d="M-2.22 -2.30L-3.10 -5.83L-0.67 -3.13ZM-0.77 -3.10L0.21 -6.00L0.99 -3.04ZM0.67 -3.13L2.30 -4.33L2.22 -2.30ZM-3.13 -0.67L-4.94 -2.63L-2.30 -2.22ZM1.79 2.65L2.04 6.28L0.11 3.20ZM-0.11 3.20L-2.10 6.47L-1.79 2.65ZM-2.83 1.50L-4.79 1.02L-3.19 -0.22ZM3.13 0.67L4.06 2.16L2.30 2.22Z" fill="#135f98"/>
<path d="M2.4 -1.2L7.9 -4.3" stroke="#135f98" stroke-width="1.7" stroke-linecap="round"/>
<circle cx="0.2" cy="-0.2" r="1.3" fill="#15151c" opacity="0.85"/>
</g>
<g transform="translate(220.15 292.80)">
<path d="M-1.5 0.6C-7 1.8 -11 5.2 -14.8 10.4L-13.2 11.2C-9.6 6.8 -6 4.4 -0.5 3.4Z" fill="#d75a0c"/>
<ellipse rx="4.0" ry="3.8" fill="#d75a0c"/>
<path d="M-2.22 -2.30L-3.10 -5.83L-0.67 -3.13ZM-0.77 -3.10L0.21 -6.00L0.99 -3.04ZM0.67 -3.13L2.30 -4.33L2.22 -2.30ZM-3.13 -0.67L-4.94 -2.63L-2.30 -2.22ZM1.79 2.65L2.04 6.28L0.11 3.20ZM-0.11 3.20L-2.10 6.47L-1.79 2.65ZM-2.83 1.50L-4.79 1.02L-3.19 -0.22ZM3.13 0.67L4.06 2.16L2.30 2.22Z" fill="#d75a0c"/>
<path d="M2.4 -1.2L7.9 -4.3" stroke="#d75a0c" stroke-width="1.7" stroke-linecap="round"/>
<circle cx="0.2" cy="-0.2" r="1.3" fill="#15151c" opacity="0.85"/>
</g>
<g transform="translate(238.50 295.75)">
<circle cx="-2.8" cy="2.65" r="4.4" fill="#ece33c"/><circle cx="2.8" cy="-2.65" r="4.4" fill="#ece33c"/>
<circle cx="-3.0" cy="3.3" r="0.7" fill="#6b6420"/><circle cx="2.9" cy="-2.3" r="0.7" fill="#6b6420"/>
</g>
<g transform="translate(265.85 295.80)">
<path d="M-11.5 -3.8C-8 -3.6 -5 -3.4 -2.5 -3.2C0.5 -4.2 3.8 -2.2 3.8 0.6C3.8 3.4 1.2 4.4 -1.2 3.4C-3.8 1.8 -6.5 -0.8 -11.5 -3.8Z" fill="#0b5245"/>
<circle cx="0.6" cy="0.2" r="0.9" fill="#06251f" opacity="0.8"/>
</g>
<g transform="translate(291.05 292.60)">
<path d="M-10.8 -4.6C-7.5 -3.6 -5 -3.2 -2.6 -3.2C0.6 -4.2 3.9 -2.2 3.9 0.6C3.9 3.4 1.2 4.4 -1.2 3.4C-3.9 1.9 -6.5 -1.2 -10.8 -4.6Z" fill="#17a68a"/>
<circle cx="0.5" cy="0.1" r="1.0" fill="#064a3c" opacity="0.75"/>
<path d="M-5.6 -3.2L-5.8 -8.2M-4.4 -3.1L-3.8 -7.6M-5.6 -3.4L-5.8 5.2L0.5 9.8M-5.8 5.2Q-11 1 -12.4 -6.5M-5.8 5.2Q-13 2.5 -17 -3.3M-5.8 5.2Q-13 4.5 -17.3 1.0M-5.8 5.2Q-13 6.5 -17.5 3.8M-5.8 5.2Q-12 8.5 -16.6 7.0" stroke="#17a68a" stroke-width="0.6" fill="none" opacity="0.85"/>
<circle cx="0.6" cy="9.8" r="1.8" fill="#17a68a"/>
</g>
<g transform="translate(310.45 296.90)">
<path d="M0 0L-4 -3.5L-8.2 -6.8M-8.2 -6.8L-9.4 -5.2M-8.2 -6.8L-6.4 -8M-5.5 -4.7L-7.6 -3.6M0 0C3 -2 6 -4 7.6 -7.2M7.6 -7.2L6.6 -8.2M7.6 -7.2L8.8 -6.8M0 0L-6.4 -0.9M-6.4 -0.9L-7 0.6M0 0L2.8 4.6M2.8 4.6L1.8 5.8M0 0L4.6 3.6M4.6 3.6L5.2 5M0 0L-1.6 -4.5" stroke="#c8ab3e" stroke-width="0.8" fill="none" stroke-linecap="round"/>
<circle r="1.3" fill="#8d7420"/>
</g>
<g transform="translate(368.45 293.00) scale(1.00)"><path d="M0 0L-4 -3L-7.6 -5.4M-4.2 -3.1L-8.3 -3.4M0 0L-5 -0.6L-9.3 -1.3M0 0L-4 2L-7.2 3.4M-4 2L-6.4 5.6M0 0L-2.2 4.2L-4.8 8.6M0 0L0.9 5L1.8 9.4M0 0L4 3.4L7.4 6.3M5.2 4.3L5.6 7.2M0 0L4.2 -2.1L8.5 -4.4M6.2 -3.1L7.3 -6.2M0 0L1.4 -3.1L2.2 -6.2" fill="none" stroke="#62efd8" stroke-width="0.8" stroke-linecap="round" opacity="0.9"/><circle r="1.6" fill="#17b39a"/></g>
<g transform="translate(391.05 293.00) scale(1.00)"><path d="M0 0L-4 -3L-7.6 -5.4M-4.2 -3.1L-8.3 -3.4M0 0L-5 -0.6L-9.3 -1.3M0 0L-4 2L-7.2 3.4M-4 2L-6.4 5.6M0 0L-2.2 4.2L-4.8 8.6M0 0L0.9 5L1.8 9.4M0 0L4 3.4L7.4 6.3M5.2 4.3L5.6 7.2M0 0L4.2 -2.1L8.5 -4.4M6.2 -3.1L7.3 -6.2M0 0L1.4 -3.1L2.2 -6.2" fill="none" stroke="#82cdf9" stroke-width="0.8" stroke-linecap="round" opacity="0.9"/><circle r="1.6" fill="#2196f3"/></g>
<g transform="translate(413.85 293.60) scale(1.00)"><path d="M0 0L-4 -3L-7.6 -5.4M-4.2 -3.1L-8.3 -3.4M0 0L-5 -0.6L-9.3 -1.3M0 0L-4 2L-7.2 3.4M-4 2L-6.4 5.6M0 0L-2.2 4.2L-4.8 8.6M0 0L0.9 5L1.8 9.4M0 0L4 3.4L7.4 6.3M5.2 4.3L5.6 7.2M0 0L4.2 -2.1L8.5 -4.4M6.2 -3.1L7.3 -6.2M0 0L1.4 -3.1L2.2 -6.2" fill="none" stroke="#b67df7" stroke-width="0.8" stroke-linecap="round" opacity="0.9"/><circle r="1.6" fill="#7a1fd0"/></g>
<g transform="translate(440.15 292.80)">
<path d="M-1.5 0.6C-7 1.8 -11 5.2 -14.8 10.4L-13.2 11.2C-9.6 6.8 -6 4.4 -0.5 3.4Z" fill="#135f98"/>
<ellipse rx="4.0" ry="3.8" fill="#135f98"/>
<path d="M-2.22 -2.30L-3.10 -5.83L-0.67 -3.13ZM-0.77 -3.10L0.21 -6.00L0.99 -3.04ZM0.67 -3.13L2.30 -4.33L2.22 -2.30ZM-3.13 -0.67L-4.94 -2.63L-2.30 -2.22ZM1.79 2.65L2.04 6.28L0.11 3.20ZM-0.11 3.20L-2.10 6.47L-1.79 2.65ZM-2.83 1.50L-4.79 1.02L-3.19 -0.22ZM3.13 0.67L4.06 2.16L2.30 2.22Z" fill="#135f98"/>
<path d="M2.4 -1.2L7.9 -4.3" stroke="#135f98" stroke-width="1.7" stroke-linecap="round"/>
<circle cx="0.2" cy="-0.2" r="1.3" fill="#15151c" opacity="0.85"/>
</g>
<g transform="translate(462.85 292.80)">
<path d="M-1.5 0.6C-7 1.8 -11 5.2 -14.8 10.4L-13.2 11.2C-9.6 6.8 -6 4.4 -0.5 3.4Z" fill="#d75a0c"/>
<ellipse rx="4.0" ry="3.8" fill="#d75a0c"/>
<path d="M-2.22 -2.30L-3.10 -5.83L-0.67 -3.13ZM-0.77 -3.10L0.21 -6.00L0.99 -3.04ZM0.67 -3.13L2.30 -4.33L2.22 -2.30ZM-3.13 -0.67L-4.94 -2.63L-2.30 -2.22ZM1.79 2.65L2.04 6.28L0.11 3.20ZM-0.11 3.20L-2.10 6.47L-1.79 2.65ZM-2.83 1.50L-4.79 1.02L-3.19 -0.22ZM3.13 0.67L4.06 2.16L2.30 2.22Z" fill="#d75a0c"/>
<path d="M2.4 -1.2L7.9 -4.3" stroke="#d75a0c" stroke-width="1.7" stroke-linecap="round"/>
<circle cx="0.2" cy="-0.2" r="1.3" fill="#15151c" opacity="0.85"/>
</g>
<g transform="translate(481.20 295.75)">
<circle cx="-2.8" cy="2.65" r="4.4" fill="#ece33c"/><circle cx="2.8" cy="-2.65" r="4.4" fill="#ece33c"/>
<circle cx="-3.0" cy="3.3" r="0.7" fill="#6b6420"/><circle cx="2.9" cy="-2.3" r="0.7" fill="#6b6420"/>
</g>
<g transform="translate(508.55 295.80)">
<path d="M-11.5 -3.8C-8 -3.6 -5 -3.4 -2.5 -3.2C0.5 -4.2 3.8 -2.2 3.8 0.6C3.8 3.4 1.2 4.4 -1.2 3.4C-3.8 1.8 -6.5 -0.8 -11.5 -3.8Z" fill="#0b5245"/>
<circle cx="0.6" cy="0.2" r="0.9" fill="#06251f" opacity="0.8"/>
</g>
<g transform="translate(533.75 292.60)">
<path d="M-10.8 -4.6C-7.5 -3.6 -5 -3.2 -2.6 -3.2C0.6 -4.2 3.9 -2.2 3.9 0.6C3.9 3.4 1.2 4.4 -1.2 3.4C-3.9 1.9 -6.5 -1.2 -10.8 -4.6Z" fill="#17a68a"/>
<circle cx="0.5" cy="0.1" r="1.0" fill="#064a3c" opacity="0.75"/>
<path d="M-5.6 -3.2L-5.8 -8.2M-4.4 -3.1L-3.8 -7.6M-5.6 -3.4L-5.8 5.2L0.5 9.8M-5.8 5.2Q-11 1 -12.4 -6.5M-5.8 5.2Q-13 2.5 -17 -3.3M-5.8 5.2Q-13 4.5 -17.3 1.0M-5.8 5.2Q-13 6.5 -17.5 3.8M-5.8 5.2Q-12 8.5 -16.6 7.0" stroke="#17a68a" stroke-width="0.6" fill="none" opacity="0.85"/>
<circle cx="0.6" cy="9.8" r="1.8" fill="#17a68a"/>
</g>
<g transform="translate(553.15 296.90)">
<path d="M0 0L-4 -3.5L-8.2 -6.8M-8.2 -6.8L-9.4 -5.2M-8.2 -6.8L-6.4 -8M-5.5 -4.7L-7.6 -3.6M0 0C3 -2 6 -4 7.6 -7.2M7.6 -7.2L6.6 -8.2M7.6 -7.2L8.8 -6.8M0 0L-6.4 -0.9M-6.4 -0.9L-7 0.6M0 0L2.8 4.6M2.8 4.6L1.8 5.8M0 0L4.6 3.6M4.6 3.6L5.2 5M0 0L-1.6 -4.5" stroke="#c8ab3e" stroke-width="0.8" fill="none" stroke-linecap="round"/>
<circle r="1.3" fill="#8d7420"/>
</g>
<g transform="translate(2.80 43.00) scale(1.000 1.000)">
<path d="M28.6 1.3C24 -0.4 13.5 -0.2 7.8 4.6C2.3 9 -0.2 14.5 0.2 19.5C0.6 25.5 5 30.2 11.5 33.2C14.5 36.3 18.5 38.2 22.2 36.4C25 35 27.2 33.4 28.6 33.2C30 33.4 32.2 35 35 36.4C38.7 38.2 42.7 36.3 45.7 33.2C52.2 30.2 56.6 25.5 57 19.5C57.4 14.5 54.9 9 49.4 4.6C43.7 -0.2 33.2 -0.4 28.6 1.3Z" fill="#d7b2ad" stroke="#c9a09b" stroke-width="0.6"/>
<path d="M28.6 10.5C24 8.5 16 9.8 10.6 14.6C6.6 18.5 7.4 25 11.5 28.8C15.5 32.5 21 34.5 26.5 33.4L28.6 33.2L30.7 33.4C36.2 34.5 41.7 32.5 45.7 28.8C49.8 25 50.6 18.5 46.6 14.6C41.2 9.8 33.2 8.5 28.6 10.5Z" fill="#dcbcb7" stroke="#efdcd9" stroke-width="0.7"/>
<path d="M28.6 13.6C30.5 15.5 32.6 18 33 20.5C32.6 23.5 30.5 26 28.6 27.6C26.7 26 24.6 23.5 24.2 20.5C24.6 18 26.7 15.5 28.6 13.6Z" fill="#e2cbc7"/>
<path d="M28.6 1.3V10.5M28.6 26.5V33.2" stroke="#c9a09b" stroke-width="0.6"/>
<path d="M24.9 11.6C24.3 15 23.9 19 24.1 22.6M32.3 11.6C32.9 15 33.3 19 33.1 22.6" stroke="#fdf8f7" stroke-width="1.1" fill="none"/>
<ellipse cx="22.3" cy="26.3" rx="1.5" ry="0.8" fill="#ead6d2" transform="rotate(-30 22.3 26.3)"/><ellipse cx="34.9" cy="26.3" rx="1.5" ry="0.8" fill="#ead6d2" transform="rotate(30 34.9 26.3)"/>
<path d="M9.1 4.8L19 1L20 8.6L11.4 11.6Z" fill="#7cf5e4"/><path d="M48.1 4.8L38.2 1L37.2 8.6L45.8 11.6Z" fill="#7cf5e4"/>
</g>
<g transform="translate(2.80 81.60) scale(1.000 1.000)">
<path d="M28.6 1.3C24 -0.4 13.5 -0.2 7.8 4.6C2.3 9 -0.2 14.5 0.2 19.5C0.6 25.5 5 30.2 11.5 33.2C14.5 36.3 18.5 38.2 22.2 36.4C25 35 27.2 33.4 28.6 33.2C30 33.4 32.2 35 35 36.4C38.7 38.2 42.7 36.3 45.7 33.2C52.2 30.2 56.6 25.5 57 19.5C57.4 14.5 54.9 9 49.4 4.6C43.7 -0.2 33.2 -0.4 28.6 1.3Z" fill="#d7b2ad" stroke="#c9a09b" stroke-width="0.6"/>
<path d="M28.6 10.5C24 8.5 16 9.8 10.6 14.6C6.6 18.5 7.4 25 11.5 28.8C15.5 32.5 21 34.5 26.5 33.4L28.6 33.2L30.7 33.4C36.2 34.5 41.7 32.5 45.7 28.8C49.8 25 50.6 18.5 46.6 14.6C41.2 9.8 33.2 8.5 28.6 10.5Z" fill="#dcbcb7" stroke="#efdcd9" stroke-width="0.7"/>
<path d="M28.6 13.6C30.5 15.5 32.6 18 33 20.5C32.6 23.5 30.5 26 28.6 27.6C26.7 26 24.6 23.5 24.2 20.5C24.6 18 26.7 15.5 28.6 13.6Z" fill="#e2cbc7"/>
<path d="M28.6 1.3V10.5M28.6 26.5V33.2" stroke="#c9a09b" stroke-width="0.6"/>
<path d="M24.9 11.6C24.3 15 23.9 19 24.1 22.6M32.3 11.6C32.9 15 33.3 19 33.1 22.6" stroke="#fdf8f7" stroke-width="1.1" fill="none"/>
<ellipse cx="22.3" cy="26.3" rx="1.5" ry="0.8" fill="#ead6d2" transform="rotate(-30 22.3 26.3)"/><ellipse cx="34.9" cy="26.3" rx="1.5" ry="0.8" fill="#ead6d2" transform="rotate(30 34.9 26.3)"/>
<path d="M21.2 10C17 9.6 12.5 12 10.6 15.5C9.7 18.2 11.5 21 14.5 21.4L21.2 21.4Z" fill="#91d2f8"/><path d="M36 10C40.2 9.6 44.7 12 46.6 15.5C47.5 18.2 45.7 21 42.7 21.4L36 21.4Z" fill="#91d2f8"/>
</g>
<g transform="translate(2.40 141.80) scale(1.000 0.990)">
<path d="M28.6 1.3C24 -0.4 13.5 -0.2 7.8 4.6C2.3 9 -0.2 14.5 0.2 19.5C0.6 25.5 5 30.2 11.5 33.2C14.5 36.3 18.5 38.2 22.2 36.4C25 35 27.2 33.4 28.6 33.2C30 33.4 32.2 35 35 36.4C38.7 38.2 42.7 36.3 45.7 33.2C52.2 30.2 56.6 25.5 57 19.5C57.4 14.5 54.9 9 49.4 4.6C43.7 -0.2 33.2 -0.4 28.6 1.3Z" fill="#d7b2ad" stroke="#c9a09b" stroke-width="0.6"/>
<path d="M28.6 10.5C24 8.5 16 9.8 10.6 14.6C6.6 18.5 7.4 25 11.5 28.8C15.5 32.5 21 34.5 26.5 33.4L28.6 33.2L30.7 33.4C36.2 34.5 41.7 32.5 45.7 28.8C49.8 25 50.6 18.5 46.6 14.6C41.2 9.8 33.2 8.5 28.6 10.5Z" fill="#dcbcb7" stroke="#efdcd9" stroke-width="0.7"/>
<path d="M28.6 13.6C30.5 15.5 32.6 18 33 20.5C32.6 23.5 30.5 26 28.6 27.6C26.7 26 24.6 23.5 24.2 20.5C24.6 18 26.7 15.5 28.6 13.6Z" fill="#e2cbc7"/>
<path d="M28.6 1.3V10.5M28.6 26.5V33.2" stroke="#c9a09b" stroke-width="0.6"/>
<path d="M24.9 11.6C24.3 15 23.9 19 24.1 22.6M32.3 11.6C32.9 15 33.3 19 33.1 22.6" stroke="#fdf8f7" stroke-width="1.1" fill="none"/>
<ellipse cx="22.3" cy="26.3" rx="1.5" ry="0.8" fill="#ead6d2" transform="rotate(-30 22.3 26.3)"/><ellipse cx="34.9" cy="26.3" rx="1.5" ry="0.8" fill="#ead6d2" transform="rotate(30 34.9 26.3)"/>
<path d="M21.6 11.2L23.4 21.6M35.6 11.2L33.8 21.6" stroke="#1f5fc9" stroke-width="1.2" fill="none"/>
</g>
<path d="M15.3 219.5C20 217.5 32 216.5 38 216C41 215.2 44 215 45.2 216.5C45.5 218 44.6 219.8 43.6 221C45.4 219.4 47.5 218.6 50 218.4C57 217.2 63 220.5 64.6 226.9C65.2 231 63.4 234 60.6 236.2L65.6 239C67.3 240 67.1 241.7 64.5 242.3C58 242.6 52 242.1 48 240.8C44 239.5 41 238.2 38 238.1C32 238.5 24 238.6 19 237.7C16 237.1 15 235.6 15.3 234C14.6 229 14.6 223 15.3 219.5Z" fill="#d7b2ad" stroke="#c9a09b" stroke-width="0.5"/>
<ellipse cx="56.2" cy="227.6" rx="8.3" ry="9.0" fill="#d9b7b2" stroke="#c9a09b" stroke-width="0.5"/>
<path d="M55.40 229.50Q52.23 225.35 49.06 224.80" stroke="#e7d0cc" stroke-width="0.55" fill="none"/>
<path d="M55.40 229.50Q53.43 223.82 50.73 221.90" stroke="#e7d0cc" stroke-width="0.55" fill="none"/>
<path d="M55.40 229.50Q55.11 222.94 53.35 220.00" stroke="#e7d0cc" stroke-width="0.55" fill="none"/>
<path d="M55.40 229.50Q56.98 222.87 56.47 219.40" stroke="#e7d0cc" stroke-width="0.55" fill="none"/>
<path d="M55.40 229.50Q58.72 223.62 59.53 220.23" stroke="#e7d0cc" stroke-width="0.55" fill="none"/>
<path d="M55.40 229.50Q60.02 225.06 62.02 222.33" stroke="#e7d0cc" stroke-width="0.55" fill="none"/>
<path d="M55.40 229.50Q60.66 226.93 63.51 225.34" stroke="#e7d0cc" stroke-width="0.55" fill="none"/>
<path d="M55.40 229.50Q60.53 228.92 63.73 228.74" stroke="#e7d0cc" stroke-width="0.55" fill="none"/>
<path d="M55.40 229.50Q59.65 230.69 62.65 231.95" stroke="#e7d0cc" stroke-width="0.55" fill="none"/>
<path d="M55.40 229.50Q58.17 231.91 60.45 234.40" stroke="#e7d0cc" stroke-width="0.55" fill="none"/>
<path d="M55.40 229.50Q56.36 232.40 57.52 235.68" stroke="#e7d0cc" stroke-width="0.55" fill="none"/>
<path d="M55.40 229.50Q54.51 232.05 54.36 235.56" stroke="#e7d0cc" stroke-width="0.55" fill="none"/>
<path d="M55.40 229.50Q52.96 230.93 51.52 234.06" stroke="#e7d0cc" stroke-width="0.55" fill="none"/>
<path d="M55.40 229.50Q51.97 229.24 49.49 231.45" stroke="#e7d0cc" stroke-width="0.55" fill="none"/>
<path d="M55.40 229.50Q51.71 227.27 48.62 228.17" stroke="#e7d0cc" stroke-width="0.55" fill="none"/>
<path d="M25 225.6C28 223.6 31 222.6 34 222.4M34.2 220.2L41.4 222.4" stroke="#f1e2df" stroke-width="0.9" fill="none"/>
<path d="M31.2 224.2L34 223.6L33.2 226.6Z" fill="#fbf3f2"/>
<path d="M15.3 223.6C14.4 222.2 13.6 221.4 12.2 221.2C8 220.6 4.2 221.8 3.2 224C2.4 226.6 6.6 231 13.1 234.2C13.8 230.5 14.2 227 15.3 223.6Z" fill="#0a9a39"/>
<line x1="380.00" y1="275.20" x2="120.60" y2="457.60" stroke="#2a2a2a" stroke-width="0.95" stroke-dasharray="6 6"/>
<line x1="425.30" y1="275.20" x2="306.20" y2="457.60" stroke="#2a2a2a" stroke-width="0.95" stroke-dasharray="6 6"/>
<line x1="425.30" y1="275.20" x2="460.60" y2="456.00" stroke="#2a2a2a" stroke-width="0.95" stroke-dasharray="6 6"/>
<line x1="515.00" y1="275.20" x2="647.20" y2="457.60" stroke="#2a2a2a" stroke-width="0.95" stroke-dasharray="6 6"/>
<path d="M121.6 456.6L120 458.4H306.2L307.8 456.6" stroke="#a55bf2" stroke-width="1.35" fill="none"/>
<path d="M460.2 456.2L461 458.6H647.6" stroke="#0e5a48" stroke-width="1.35" fill="none"/>
<text x="125.1" y="453.9" class="t10">VMRs with low methylation in astrocytes</text>
<text x="439.9" y="453.3" class="t10">VMRs with low methylation in neurogenic lineage</text>
<g transform="translate(233.60 435.10) scale(1.00)"><path d="M0 0L-4 -3L-7.6 -5.4M-4.2 -3.1L-8.3 -3.4M0 0L-5 -0.6L-9.3 -1.3M0 0L-4 2L-7.2 3.4M-4 2L-6.4 5.6M0 0L-2.2 4.2L-4.8 8.6M0 0L0.9 5L1.8 9.4M0 0L4 3.4L7.4 6.3M5.2 4.3L5.6 7.2M0 0L4.2 -2.1L8.5 -4.4M6.2 -3.1L7.3 -6.2M0 0L1.4 -3.1L2.2 -6.2" fill="none" stroke="#82cdf9" stroke-width="0.8" stroke-linecap="round" opacity="0.9"/><circle r="1.6" fill="#2196f3"/></g>
<g transform="translate(252.00 435.80) scale(1.00)"><path d="M0 0L-4 -3L-7.6 -5.4M-4.2 -3.1L-8.3 -3.4M0 0L-5 -0.6L-9.3 -1.3M0 0L-4 2L-7.2 3.4M-4 2L-6.4 5.6M0 0L-2.2 4.2L-4.8 8.6M0 0L0.9 5L1.8 9.4M0 0L4 3.4L7.4 6.3M5.2 4.3L5.6 7.2M0 0L4.2 -2.1L8.5 -4.4M6.2 -3.1L7.3 -6.2M0 0L1.4 -3.1L2.2 -6.2" fill="none" stroke="#b67df7" stroke-width="0.8" stroke-linecap="round" opacity="0.9"/><circle r="1.6" fill="#7a1fd0"/></g>
<g transform="translate(531.90 432.80)">
<path d="M-1.5 0.6C-7 1.8 -11 5.2 -14.8 10.4L-13.2 11.2C-9.6 6.8 -6 4.4 -0.5 3.4Z" fill="#135f98"/>
<ellipse rx="4.0" ry="3.8" fill="#135f98"/>
<path d="M-2.22 -2.30L-3.10 -5.83L-0.67 -3.13ZM-0.77 -3.10L0.21 -6.00L0.99 -3.04ZM0.67 -3.13L2.30 -4.33L2.22 -2.30ZM-3.13 -0.67L-4.94 -2.63L-2.30 -2.22ZM1.79 2.65L2.04 6.28L0.11 3.20ZM-0.11 3.20L-2.10 6.47L-1.79 2.65ZM-2.83 1.50L-4.79 1.02L-3.19 -0.22ZM3.13 0.67L4.06 2.16L2.30 2.22Z" fill="#135f98"/>
<path d="M2.4 -1.2L7.9 -4.3" stroke="#135f98" stroke-width="1.7" stroke-linecap="round"/>
<circle cx="0.2" cy="-0.2" r="1.3" fill="#15151c" opacity="0.85"/>
</g>
<g transform="translate(555.50 432.80)">
<path d="M-1.5 0.6C-7 1.8 -11 5.2 -14.8 10.4L-13.2 11.2C-9.6 6.8 -6 4.4 -0.5 3.4Z" fill="#d75a0c"/>
<ellipse rx="4.0" ry="3.8" fill="#d75a0c"/>
<path d="M-2.22 -2.30L-3.10 -5.83L-0.67 -3.13ZM-0.77 -3.10L0.21 -6.00L0.99 -3.04ZM0.67 -3.13L2.30 -4.33L2.22 -2.30ZM-3.13 -0.67L-4.94 -2.63L-2.30 -2.22ZM1.79 2.65L2.04 6.28L0.11 3.20ZM-0.11 3.20L-2.10 6.47L-1.79 2.65ZM-2.83 1.50L-4.79 1.02L-3.19 -0.22ZM3.13 0.67L4.06 2.16L2.30 2.22Z" fill="#d75a0c"/>
<path d="M2.4 -1.2L7.9 -4.3" stroke="#d75a0c" stroke-width="1.7" stroke-linecap="round"/>
<circle cx="0.2" cy="-0.2" r="1.3" fill="#15151c" opacity="0.85"/>
</g>
<g transform="translate(574.70 435.80)">
<circle cx="-2.8" cy="2.65" r="4.4" fill="#ece33c"/><circle cx="2.8" cy="-2.65" r="4.4" fill="#ece33c"/>
<circle cx="-3.0" cy="3.3" r="0.7" fill="#6b6420"/><circle cx="2.9" cy="-2.3" r="0.7" fill="#6b6420"/>
</g>
<g transform="translate(597.60 436.20)">
<path d="M-11.5 -3.8C-8 -3.6 -5 -3.4 -2.5 -3.2C0.5 -4.2 3.8 -2.2 3.8 0.6C3.8 3.4 1.2 4.4 -1.2 3.4C-3.8 1.8 -6.5 -0.8 -11.5 -3.8Z" fill="#0b5245"/>
<circle cx="0.6" cy="0.2" r="0.9" fill="#06251f" opacity="0.8"/>
</g>
<path d="M100.40 465.60V773.40H326.50" stroke="#1e1e1e" stroke-width="1.10" fill="none"/>
<line x1="97.20" x2="100.40" y1="759.80" y2="759.80" stroke="#1e1e1e" stroke-width="1"/>
<text x="94.80" y="763.40" class="t10" text-anchor="end">0</text>
<line x1="97.20" x2="100.40" y1="696.30" y2="696.30" stroke="#1e1e1e" stroke-width="1"/>
<text x="94.80" y="699.90" class="t10" text-anchor="end">10</text>
<line x1="97.20" x2="100.40" y1="632.80" y2="632.80" stroke="#1e1e1e" stroke-width="1"/>
<text x="94.80" y="636.40" class="t10" text-anchor="end">20</text>
<line x1="97.20" x2="100.40" y1="569.30" y2="569.30" stroke="#1e1e1e" stroke-width="1"/>
<text x="94.80" y="572.90" class="t10" text-anchor="end">30</text>
<line x1="97.20" x2="100.40" y1="505.80" y2="505.80" stroke="#1e1e1e" stroke-width="1"/>
<text x="94.80" y="509.40" class="t10" text-anchor="end">40</text>
<line x1="110.50" x2="110.50" y1="773.40" y2="776.60" stroke="#1e1e1e" stroke-width="1"/>
<text x="110.20" y="788.10" class="t10" text-anchor="middle">0</text>
<line x1="178.50" x2="178.50" y1="773.40" y2="776.60" stroke="#1e1e1e" stroke-width="1"/>
<text x="178.80" y="788.10" class="t10" text-anchor="middle">1</text>
<line x1="247.50" x2="247.50" y1="773.40" y2="776.60" stroke="#1e1e1e" stroke-width="1"/>
<text x="247.40" y="788.10" class="t10" text-anchor="middle">2</text>
<line x1="316.50" x2="316.50" y1="773.40" y2="776.60" stroke="#1e1e1e" stroke-width="1"/>
<text x="316.00" y="788.10" class="t10" text-anchor="middle">3</text>
<text x="209.90" y="800.4" class="t10" text-anchor="middle">Mean gene expression of TF</text>
<text x="209.70" y="812.6" class="t10" text-anchor="middle">(log-normalized)</text>
<text transform="translate(61.50 637.1) rotate(-90)" class="t10" text-anchor="middle">TF motif enrichment</text>
<text transform="translate(73.00 636.8) rotate(-90)" class="t10" text-anchor="middle" style="font-size:9.4px">[–log(<tspan font-style="italic">P</tspan> value)]</text>
<path d="M443.00 465.60V774.00H669.00" stroke="#1e1e1e" stroke-width="1.40" fill="none"/>
<line x1="440.10" x2="443.30" y1="759.80" y2="759.80" stroke="#1e1e1e" stroke-width="1"/>
<text x="437.70" y="763.40" class="t10" text-anchor="end">0</text>
<line x1="440.10" x2="443.30" y1="671.83" y2="671.83" stroke="#1e1e1e" stroke-width="1"/>
<text x="437.70" y="675.43" class="t10" text-anchor="end">50</text>
<line x1="440.10" x2="443.30" y1="583.87" y2="583.87" stroke="#1e1e1e" stroke-width="1"/>
<text x="437.70" y="587.47" class="t10" text-anchor="end">100</text>
<line x1="440.10" x2="443.30" y1="495.90" y2="495.90" stroke="#1e1e1e" stroke-width="1"/>
<text x="437.70" y="499.50" class="t10" text-anchor="end">150</text>
<line x1="453.50" x2="453.50" y1="773.40" y2="776.60" stroke="#1e1e1e" stroke-width="1"/>
<text x="453.30" y="788.10" class="t10" text-anchor="middle">0</text>
<line x1="521.50" x2="521.50" y1="773.40" y2="776.60" stroke="#1e1e1e" stroke-width="1"/>
<text x="521.70" y="788.10" class="t10" text-anchor="middle">1</text>
<line x1="590.50" x2="590.50" y1="773.40" y2="776.60" stroke="#1e1e1e" stroke-width="1"/>
<text x="590.10" y="788.10" class="t10" text-anchor="middle">2</text>
<line x1="658.50" x2="658.50" y1="773.40" y2="776.60" stroke="#1e1e1e" stroke-width="1"/>
<text x="658.50" y="788.10" class="t10" text-anchor="middle">3</text>
<text x="550.00" y="800.4" class="t10" text-anchor="middle">Mean gene expression of TF</text>
<text x="549.80" y="812.6" class="t10" text-anchor="middle">(log-normalized)</text>
<text transform="translate(397.50 637.1) rotate(-90)" class="t10" text-anchor="middle">TF motif enrichment</text>
<text transform="translate(408.66 636.8) rotate(-90)" class="t10" text-anchor="middle" style="font-size:9.4px">[–log(<tspan font-style="italic">P</tspan> value)]</text>
<path d="M169.8 483.6h0M210.9 479.6h0M119.2 523.7h0M130.4 557.4h0M212.3 586.6h0M118.8 614.0h0M133.4 618.0h0M170.5 630.6h0M214.7 619.0h0M123.4 640.4h0M110.6 561.6h0M123.6 640.8h0M117.1 671.2h0M175.5 674.6h0M130.0 678.7h0M152.7 679.8h0M119.2 682.0h0M124.4 684.4h0M125.9 692.4h0M132.7 698.0h0M155.9 701.0h0M142.8 703.9h0M114.1 706.3h0M119.2 705.5h0M122.7 709.0h0M123.2 712.7h0M116.8 715.1h0M119.2 716.7h0M151.4 715.2h0M195.8 718.8h0M114.4 718.3h0M127.2 718.6h0M120.8 721.8h0M125.6 719.9h0M142.3 721.8h0M142.3 723.4h0M153.5 724.3h0M147.9 726.3h0M137.1 726.3h0M170.0 726.0h0M173.8 724.7h0M175.4 725.6h0M161.0 727.9h0M147.1 728.7h0M143.1 729.5h0M138.3 731.4h0M133.5 733.5h0M181.8 731.4h0M157.8 733.5h0M160.7 734.2h0M164.2 732.3h0M137.1 736.3h0M141.5 735.8h0M144.7 735.5h0M143.9 737.8h0M179.4 738.7h0M148.4 744.2h0M160.4 745.4h0M193.9 746.2h0M153.2 749.1h0M146.0 750.7h0M143.5 754.4h0M147.9 754.7h0M169.5 753.4h0M179.4 752.6h0M152.4 758.2h0M162.0 758.7h0M168.7 758.2h0M173.5 757.4h0M177.5 758.2h0M183.4 759.5h0M155.1 755.8h0M204.7 710.4h0M213.1 730.1h0M249.3 759.8h0M164.5 732.5h0M182.1 731.1h0M152.6 748.7h0M151.3 756.6h0M155.3 757.2h0M161.8 758.7h0M173.1 756.6h0M176.3 757.9h0M179.4 756.6h0M160.5 745.3h0M169.7 754.0h0M110.7 583.2h0M110.7 587.8h0M110.7 592.8h0M110.7 605.0h0M110.7 607.0h0M110.7 611.3h0M110.7 613.7h0M110.7 621.1h0M110.7 622.4h0M110.7 631.0h0M110.7 635.2h0M110.7 639.0h0M110.7 643.0h0M110.7 645.5h0M110.7 648.0h0M110.7 650.5h0M110.7 653.0h0M110.7 655.5h0M110.7 658.0h0M110.7 660.5h0M110.6 681.9h0M111.0 674.7h0M110.8 701.6h0M110.4 714.7h0M110.3 707.9h0M110.4 676.3h0M110.7 744.1h0M110.4 688.5h0M110.9 755.2h0M110.9 704.5h0M111.3 672.3h0M111.2 694.6h0M110.4 678.8h0M110.6 743.1h0M110.5 721.5h0M110.9 702.3h0M110.8 673.8h0M110.4 686.9h0M111.0 707.3h0M110.6 721.9h0M110.8 695.6h0M111.1 732.3h0M110.5 720.8h0M110.8 748.5h0M111.0 694.5h0M111.3 678.9h0M110.7 737.7h0M110.5 713.0h0M110.3 729.5h0M111.1 720.7h0M111.2 696.9h0M111.0 722.7h0M110.9 710.0h0M111.1 754.9h0M110.8 729.1h0M110.4 732.5h0M110.9 759.4h0M111.1 694.2h0M110.7 729.5h0M110.3 710.5h0M110.5 678.8h0M110.4 738.7h0M110.4 690.8h0M110.7 748.2h0M110.4 709.3h0M112.0 753.6h0M112.8 752.5h0M111.1 727.8h0M111.3 753.6h0M113.3 713.3h0M110.8 717.8h0M110.9 731.7h0M112.1 719.5h0M110.2 728.0h0M111.4 736.1h0M113.2 743.0h0M111.8 739.0h0M112.4 708.0h0M113.1 747.9h0M113.0 748.9h0M111.5 726.9h0M110.5 739.9h0M110.4 708.7h0M110.9 713.9h0M111.3 707.9h0M110.2 713.3h0M110.5 725.0h0M110.3 753.1h0M112.2 713.2h0M111.0 724.1h0M111.4 711.8h0M112.9 759.6h0M111.7 731.6h0M110.5 710.6h0M111.3 719.6h0M112.9 713.9h0M110.3 757.3h0M111.9 713.1h0M111.9 706.5h0M111.9 758.8h0M113.0 743.3h0M111.0 725.2h0M110.7 747.5h0M111.9 747.8h0M111.3 717.3h0M112.8 759.2h0M112.9 749.3h0M112.8 745.7h0M110.9 733.5h0M111.3 706.6h0M110.5 757.0h0M113.2 749.8h0M141.6 754.8h0M141.2 755.9h0M112.7 757.6h0M112.4 757.9h0M120.0 740.2h0M128.6 754.3h0M120.8 746.1h0M111.1 750.6h0M134.3 746.8h0M124.1 754.3h0M112.2 746.6h0M114.2 746.1h0M145.8 755.5h0M115.3 734.9h0M123.1 758.2h0M111.6 758.4h0M133.7 745.8h0M111.8 744.9h0M114.5 753.0h0M111.6 759.7h0M117.7 736.7h0M115.9 742.3h0M127.7 757.8h0M113.1 756.9h0M113.0 752.3h0M113.2 755.2h0M111.6 739.3h0M114.6 754.6h0M119.0 739.9h0M115.7 738.6h0M117.2 753.3h0M117.6 759.6h0M116.0 758.1h0M110.2 746.2h0M112.1 754.3h0M123.1 752.9h0M114.1 753.6h0M118.3 746.8h0M111.3 752.8h0M113.1 757.0h0M125.0 753.8h0M118.4 747.7h0M134.6 754.8h0M119.7 753.8h0M117.4 749.8h0M116.2 753.3h0M116.7 735.7h0M122.2 742.0h0M138.7 757.2h0M118.4 735.4h0M128.5 758.5h0M111.5 754.8h0M111.0 757.5h0M111.0 750.4h0M125.5 740.5h0M111.9 749.1h0M121.0 758.5h0M112.7 733.9h0M115.3 754.1h0M112.0 755.0h0M117.4 756.3h0M112.4 756.5h0M123.0 759.6h0M118.3 754.9h0M110.4 756.4h0M120.0 753.7h0M111.3 757.2h0M110.6 747.0h0M113.4 758.6h0M115.7 739.2h0M127.3 757.3h0M111.8 738.4h0M118.7 749.6h0M111.1 759.3h0M121.9 755.1h0M111.0 736.1h0M120.3 746.1h0M111.1 743.3h0M110.9 742.9h0M116.2 756.3h0M118.3 737.6h0M113.3 758.6h0M117.7 757.5h0M111.4 758.3h0M110.7 757.9h0M113.9 756.7h0M124.5 756.9h0M117.1 758.1h0M114.5 759.6h0M113.1 759.7h0M123.4 753.0h0M112.3 754.3h0M137.5 758.8h0M127.3 755.0h0M117.0 744.5h0M115.2 753.8h0M114.4 744.6h0M122.5 751.2h0M115.4 756.2h0M110.8 758.6h0M110.9 748.3h0M113.2 758.3h0M111.1 744.2h0M130.6 750.4h0M113.5 757.4h0M113.7 754.6h0M111.9 754.8h0M113.3 732.1h0M146.2 753.1h0M113.0 731.1h0M113.9 756.1h0M110.2 755.7h0M116.6 753.9h0M112.4 753.8h0M110.2 757.2h0M111.1 755.5h0M110.6 759.6h0M113.8 757.5h0M119.0 753.4h0M124.1 750.7h0M122.8 741.8h0M115.1 756.4h0M152.0 758.4h0M123.1 751.0h0M110.6 744.5h0M132.5 751.4h0M123.4 745.6h0M111.7 753.5h0M117.2 744.5h0M126.5 744.9h0M119.0 740.8h0M121.7 749.8h0M112.8 759.5h0M111.6 756.0h0M111.3 744.4h0M118.4 751.4h0M120.0 750.1h0M116.9 759.8h0M126.2 748.1h0M117.2 753.3h0M121.0 759.2h0M123.5 757.3h0M111.0 757.2h0M123.3 757.8h0M117.0 755.7h0M116.7 750.0h0M124.8 751.6h0M120.5 759.1h0M111.8 757.3h0M123.8 756.7h0M118.6 759.7h0M110.8 757.1h0M121.3 749.8h0M121.5 756.9h0M117.5 754.5h0M116.5 758.7h0M132.6 757.9h0M110.4 754.6h0M116.2 757.1h0M112.6 735.1h0M112.6 752.4h0M111.7 753.5h0M140.7 758.6h0M127.4 753.8h0M132.0 749.5h0M112.8 740.4h0M116.9 759.6h0M110.2 754.0h0M116.2 756.7h0M111.7 756.2h0M114.0 744.2h0M110.2 748.0h0M128.5 758.7h0M136.3 749.2h0M133.4 756.9h0M114.9 755.6h0M114.7 755.1h0M113.4 759.4h0M111.3 744.5h0M113.6 736.5h0M113.1 757.2h0M117.4 758.0h0M114.9 733.2h0M131.8 745.6h0M120.2 739.0h0M138.5 753.0h0M122.9 759.4h0M123.4 754.7h0M124.2 751.0h0M113.6 759.4h0M136.3 758.6h0M116.6 756.2h0M113.7 748.4h0M147.6 757.2h0M120.9 756.8h0M118.3 755.5h0M112.0 758.3h0M112.5 739.7h0M117.1 757.7h0M116.2 758.5h0M112.3 759.0h0M114.4 759.0h0M112.9 757.3h0M118.6 741.2h0M124.0 755.3h0M115.5 753.5h0M114.9 756.3h0M110.8 757.0h0M144.5 758.7h0M117.2 751.4h0M130.1 757.7h0M113.4 757.4h0M115.3 754.8h0M130.8 759.6h0M110.5 749.3h0M132.8 754.4h0M119.0 759.8h0M115.2 737.6h0M127.7 743.4h0M146.0 757.4h0M111.4 758.4h0M117.6 750.1h0M138.6 748.9h0M120.6 747.5h0M116.3 753.0h0M110.6 746.8h0M112.8 738.3h0M120.6 756.7h0M111.6 757.3h0M120.3 749.6h0M111.4 759.2h0M117.6 752.4h0M115.1 757.6h0M119.4 759.7h0M113.8 754.6h0M142.1 751.0h0M131.7 754.3h0M112.9 757.4h0M142.5 749.4h0M113.9 759.6h0M117.1 750.3h0M115.6 757.3h0M121.2 737.8h0M112.8 759.5h0M114.3 755.2h0M121.7 757.9h0M126.1 748.4h0M117.2 757.8h0M145.2 756.6h0M127.3 757.6h0M112.7 747.7h0M113.7 734.0h0M117.0 758.0h0M112.7 755.2h0M121.1 734.5h0M111.8 755.6h0M112.6 728.7h0M111.7 759.3h0M110.8 755.6h0M137.0 756.4h0M112.3 736.5h0M123.9 759.5h0M121.1 755.8h0M114.9 756.4h0M112.1 759.8h0M113.5 756.1h0M141.3 758.7h0M143.5 757.8h0M114.6 745.1h0M127.5 755.0h0M110.7 754.3h0M114.9 738.4h0M112.3 755.9h0M132.9 759.5h0M115.5 745.6h0M124.8 759.4h0M110.6 759.3h0M135.5 757.3h0M124.0 740.4h0M114.3 757.1h0M141.8 751.6h0M113.2 749.1h0M114.0 757.1h0M110.2 747.8h0M135.0 751.3h0M138.9 759.6h0M112.9 754.3h0M115.1 757.3h0M115.8 754.0h0M136.5 758.1h0M126.4 748.4h0M127.5 747.2h0M119.5 756.4h0M114.0 756.0h0M125.4 759.1h0M112.4 747.9h0M113.0 759.2h0M110.5 753.0h0M113.3 759.1h0M111.2 753.9h0M122.6 754.8h0M112.9 755.2h0M119.9 750.3h0M124.0 743.8h0M121.1 758.7h0M128.6 756.8h0M118.6 755.8h0M123.6 757.9h0M113.0 757.4h0M111.9 741.5h0M118.8 756.4h0M117.3 757.6h0M126.7 750.8h0M116.6 745.3h0M128.6 738.9h0M110.6 756.8h0M111.5 758.0h0M146.3 752.4h0M136.8 755.8h0M130.3 754.7h0M113.2 747.0h0M139.3 758.8h0M119.3 751.6h0M112.7 755.9h0M111.7 757.9h0M113.1 752.0h0M120.7 757.9h0M110.3 756.4h0M121.5 758.1h0M113.9 757.9h0M126.1 753.0h0M110.9 758.9h0M115.2 753.0h0M120.4 759.0h0M112.0 749.7h0M115.5 757.0h0M113.9 733.8h0M113.9 752.7h0M124.5 759.1h0M144.8 758.2h0M124.8 759.5h0M139.3 759.5h0M110.4 758.4h0M127.2 758.5h0M126.4 758.4h0M128.6 759.5h0M110.8 758.9h0M135.8 758.3h0M113.8 758.8h0M125.0 759.0h0M116.0 759.3h0M131.0 758.3h0M114.6 759.0h0M142.4 758.3h0M118.1 759.6h0M147.9 758.2h0M129.5 759.7h0M147.2 759.2h0M146.4 758.8h0M143.2 759.5h0M141.6 759.4h0M126.4 758.4h0M143.4 759.5h0M118.9 759.2h0M130.9 759.2h0M115.1 759.4h0M139.2 758.4h0M111.8 758.9h0M140.5 759.7h0M143.7 759.6h0M134.2 758.9h0M135.3 759.3h0M127.0 758.9h0M127.2 758.7h0M128.1 759.1h0M111.1 758.8h0M129.8 759.4h0M140.7 758.6h0M128.5 759.5h0M129.1 759.6h0M115.3 759.1h0M113.9 759.1h0M130.6 759.7h0M135.7 759.7h0M139.5 758.6h0M130.7 759.7h0M130.4 759.2h0M148.2 759.6h0M468.8 503.1h0M507.7 519.1h0M457.9 536.3h0M540.0 545.8h0M470.2 551.8h0M472.0 580.0h0M475.5 581.2h0M467.6 596.2h0M468.6 596.8h0M503.1 629.4h0M469.3 650.4h0M500.3 664.5h0M507.3 663.2h0M485.9 670.2h0M478.6 673.2h0M460.0 674.6h0M469.6 676.2h0M474.5 678.8h0M486.4 678.8h0M497.7 676.2h0M502.6 684.3h0M457.0 687.2h0M471.9 687.6h0M480.7 688.6h0M488.9 692.5h0M474.5 698.6h0M483.3 699.5h0M457.9 698.6h0M460.5 699.0h0M519.7 702.4h0M539.0 705.8h0M559.5 708.4h0M559.5 721.2h0M513.1 719.8h0M504.0 726.4h0M505.7 729.4h0M524.8 727.3h0M530.1 728.4h0M522.7 734.3h0M512.6 738.3h0M501.7 743.4h0M508.3 744.5h0M501.7 747.4h0M497.3 751.0h0M495.6 754.5h0M510.8 754.5h0M528.8 753.6h0M524.8 755.7h0M524.8 758.8h0M529.2 758.8h0M540.2 756.2h0M545.1 758.8h0M518.3 759.2h0M590.9 688.6h0M569.8 716.7h0M569.8 728.3h0M610.2 722.6h0M624.1 724.8h0M606.0 755.0h0M485.0 684.0h0M490.0 700.0h0M482.0 707.0h0M476.0 712.0h0M486.5 716.5h0M492.0 721.0h0M453.5 479.2h0M453.6 483.6h0M453.3 492.1h0M453.4 493.6h0M452.8 498.7h0M453.6 503.5h0M453.1 505.0h0M453.6 506.1h0M453.5 512.4h0M452.8 516.0h0M453.4 520.8h0M453.5 522.3h0M452.7 530.0h0M453.0 531.7h0M453.4 533.4h0M452.8 535.1h0M453.5 536.8h0M452.9 538.5h0M453.4 540.2h0M452.7 541.9h0M453.1 543.6h0M453.5 545.3h0M452.8 547.0h0M452.9 548.7h0M453.1 550.4h0M452.9 552.1h0M452.6 553.8h0M452.8 555.5h0M452.8 557.2h0M453.5 558.9h0M453.3 560.6h0M453.5 562.3h0M452.8 564.0h0M453.4 565.7h0M452.7 570.0h0M453.1 574.0h0M453.2 576.5h0M453.0 580.0h0M453.5 582.5h0M453.2 586.0h0M453.2 589.0h0M453.5 592.6h0M452.7 594.4h0M453.6 600.2h0M453.2 604.0h0M453.0 619.8h0M453.4 623.3h0M452.9 630.0h0M453.6 645.7h0M453.2 654.5h0M453.0 658.0h0M453.4 670.2h0M453.0 674.1h0M452.8 676.2h0M456.2 498.9h0M453.9 682.0h0M454.0 698.8h0M453.7 758.7h0M453.6 732.4h0M453.2 678.1h0M452.8 690.2h0M453.7 713.4h0M453.5 751.4h0M452.9 696.6h0M453.7 679.8h0M452.7 707.1h0M452.9 707.3h0M453.1 725.9h0M453.6 694.7h0M453.7 716.9h0M452.9 754.8h0M453.1 690.2h0M452.9 730.3h0M454.1 742.1h0M453.3 699.7h0M452.7 730.9h0M453.6 706.7h0M453.7 714.4h0M454.2 738.1h0M453.1 752.1h0M452.8 721.6h0M453.3 697.5h0M452.8 741.9h0M452.7 723.2h0M454.2 689.7h0M453.0 727.9h0M453.5 730.6h0M454.0 692.3h0M453.2 702.6h0M452.8 750.9h0M454.0 736.7h0M452.7 747.2h0M453.9 716.2h0M453.9 715.1h0M453.1 686.6h0M453.1 681.2h0M453.2 739.5h0M453.8 747.3h0M453.8 699.8h0M453.6 713.8h0M454.0 720.9h0M453.1 730.6h0M454.2 695.8h0M454.1 679.2h0M453.1 697.4h0M453.9 755.5h0M453.9 704.8h0M454.1 704.9h0M453.1 752.4h0M453.7 734.8h0M453.8 758.3h0M453.5 746.9h0M453.8 748.3h0M453.4 737.4h0M453.6 703.2h0M454.2 737.4h0M453.6 754.6h0M453.9 701.6h0M453.7 755.7h0M454.8 708.5h0M453.3 702.5h0M456.3 738.0h0M456.3 744.2h0M453.5 735.4h0M454.8 749.1h0M456.9 753.5h0M453.5 752.1h0M457.3 756.7h0M453.7 712.3h0M453.7 702.1h0M457.0 748.7h0M456.1 749.5h0M456.0 717.2h0M453.6 705.9h0M456.6 712.3h0M454.6 725.4h0M453.3 715.4h0M454.5 742.9h0M454.9 719.2h0M457.5 730.2h0M457.0 737.1h0M453.3 724.8h0M455.2 746.4h0M454.8 742.3h0M455.6 713.0h0M457.1 705.5h0M456.9 710.2h0M453.2 712.1h0M456.6 758.7h0M453.2 729.4h0M455.4 747.8h0M454.0 729.7h0M454.8 749.9h0M454.4 756.6h0M454.5 712.9h0M465.9 748.1h0M454.5 742.6h0M454.2 733.4h0M465.8 733.5h0M463.7 752.3h0M458.7 751.3h0M476.5 758.3h0M476.3 759.4h0M455.7 754.6h0M477.6 748.0h0M458.3 723.2h0M456.1 749.3h0M461.3 735.9h0M468.0 742.1h0M457.8 753.1h0M455.1 728.3h0M464.7 736.8h0M455.3 750.0h0M468.9 745.1h0M454.7 749.3h0M476.0 755.2h0M455.5 753.7h0M466.1 728.3h0M455.1 756.9h0M456.3 753.1h0M461.1 756.8h0M457.5 756.2h0M454.4 704.0h0M454.4 751.6h0M467.2 750.1h0M455.6 742.5h0M454.5 755.9h0M458.5 759.2h0M458.6 733.2h0M465.7 748.0h0M463.8 749.2h0M454.9 744.1h0M458.7 736.8h0M478.4 750.2h0M462.3 736.3h0M459.0 755.4h0M466.7 723.7h0M468.9 739.3h0M473.4 740.5h0M464.1 749.5h0M457.2 743.0h0M454.4 750.6h0M469.3 738.6h0M463.7 754.9h0M459.1 749.5h0M463.5 750.8h0M465.1 714.5h0M455.4 741.7h0M469.1 751.4h0M460.4 697.3h0M453.7 746.5h0M455.1 733.9h0M482.9 747.4h0M454.4 745.3h0M461.5 738.3h0M460.8 742.5h0M471.8 747.3h0M458.8 709.5h0M455.8 740.2h0M458.5 735.3h0M454.7 689.0h0M457.9 758.8h0M456.7 751.1h0M453.4 750.6h0M459.0 739.4h0M457.9 754.6h0M456.0 736.8h0M482.8 747.1h0M455.9 732.3h0M458.5 755.7h0M454.8 734.3h0M470.7 742.7h0M459.9 745.8h0M456.0 703.4h0M457.9 742.5h0M471.2 731.0h0M459.9 753.9h0M461.6 757.5h0M472.1 752.4h0M473.3 754.5h0M458.3 754.8h0M459.1 756.3h0M453.3 738.1h0M456.8 755.0h0M457.1 748.7h0M459.2 742.6h0M464.6 752.1h0M481.0 727.0h0M453.9 729.9h0M478.1 733.7h0M454.9 729.5h0M463.8 759.5h0M453.4 708.3h0M464.5 754.9h0M454.4 757.2h0M456.1 734.3h0M457.8 757.0h0M477.9 733.1h0M455.2 722.1h0M463.1 734.0h0M464.9 721.7h0M469.6 728.8h0M455.6 739.7h0M461.2 736.8h0M459.4 723.4h0M461.8 754.6h0M456.1 757.2h0M460.4 758.8h0M459.9 757.1h0M460.4 748.1h0M461.4 726.0h0M453.4 728.6h0M459.9 745.7h0M464.8 728.6h0M458.2 750.6h0M487.3 758.5h0M463.9 742.6h0M453.6 743.8h0M465.3 714.2h0M457.5 691.8h0M460.8 748.5h0M477.2 759.2h0M466.6 743.1h0M457.6 726.2h0M458.1 748.9h0M461.1 734.8h0M455.8 750.1h0M459.1 746.1h0M471.7 753.9h0M471.8 751.0h0M460.7 754.4h0M460.7 697.1h0M464.5 733.1h0M457.5 753.3h0M457.0 744.8h0M463.9 733.7h0M453.7 738.0h0M476.1 746.4h0M453.8 753.7h0M453.4 756.2h0M480.0 743.8h0M464.6 733.3h0M478.6 743.7h0M463.4 743.0h0M465.8 744.4h0M465.3 755.7h0M464.8 749.4h0M468.4 758.0h0M455.4 759.2h0M468.9 718.1h0M464.5 752.0h0M471.5 733.5h0M462.0 754.7h0M457.1 750.5h0M457.3 750.2h0M464.1 713.6h0M453.9 745.6h0M453.7 757.6h0M470.8 745.2h0M479.6 749.7h0M453.4 751.5h0M462.7 712.6h0M494.8 748.8h0M458.9 758.0h0M464.2 755.7h0M455.0 759.5h0M453.4 740.2h0M454.7 702.1h0M454.3 725.2h0M454.7 759.5h0M466.6 755.1h0M467.2 756.3h0M453.8 734.5h0M466.4 726.9h0M467.0 758.3h0M463.7 738.8h0M459.8 714.0h0M456.4 703.1h0M466.6 759.6h0M453.5 741.9h0M471.2 758.4h0M457.2 737.6h0M455.2 726.3h0M460.3 758.8h0M458.1 745.3h0M459.4 740.6h0M454.9 732.7h0M458.0 742.2h0M463.7 750.6h0M458.4 733.6h0M483.7 733.7h0M462.1 753.9h0M454.0 697.8h0M466.1 729.9h0M457.5 744.0h0M463.0 753.5h0M459.2 722.6h0M458.3 740.2h0M463.0 721.3h0M470.6 754.1h0M453.3 754.6h0M459.1 744.8h0M471.1 722.7h0M453.8 729.4h0M470.8 725.5h0M462.2 754.4h0M473.3 731.8h0M465.4 718.1h0M457.8 758.3h0M461.8 732.7h0M455.6 736.2h0M481.5 755.3h0M463.1 740.6h0M459.9 755.9h0M456.4 736.2h0M469.8 749.3h0M454.3 731.9h0M468.8 755.3h0M462.4 721.2h0M476.0 747.3h0M460.1 744.7h0M455.5 756.2h0M455.4 739.3h0M458.0 745.7h0M458.7 747.4h0M455.0 759.0h0M454.5 742.8h0M469.6 756.9h0M462.8 752.6h0M461.0 759.4h0M474.4 748.5h0M462.1 754.6h0M469.2 750.4h0M484.0 735.0h0M456.4 759.1h0M455.7 756.4h0M454.2 758.9h0M461.9 725.0h0M459.7 709.8h0M478.6 758.7h0M462.9 751.2h0M454.6 705.4h0M456.4 745.7h0M464.0 706.5h0M464.9 751.3h0M459.5 756.8h0M455.9 759.1h0M456.4 752.4h0M472.4 759.0h0M469.5 738.8h0M453.9 757.1h0M468.1 712.1h0M465.2 753.8h0M462.7 735.7h0M454.5 753.1h0M456.4 757.5h0M460.2 756.7h0M456.2 757.2h0M465.2 759.6h0M466.6 756.1h0M453.7 715.1h0M455.9 713.6h0M474.5 722.5h0M454.9 749.7h0M454.4 714.9h0M472.7 743.0h0M459.6 752.7h0M471.5 748.8h0M463.7 757.2h0M455.9 758.8h0M466.4 746.1h0M454.9 725.0h0M456.6 750.8h0M455.1 754.4h0M472.5 752.9h0M455.2 748.3h0M457.3 720.1h0M454.6 694.4h0M453.9 721.5h0M464.9 755.8h0M460.1 754.1h0M456.4 756.0h0M454.4 754.0h0M477.1 758.8h0M466.9 753.9h0M493.7 759.5h0M470.6 752.7h0M454.9 759.8h0M472.0 747.1h0M455.5 750.1h0M478.8 755.6h0M462.2 757.3h0M455.4 734.8h0M466.4 756.1h0M454.2 758.2h0M463.1 748.2h0M456.7 755.9h0M463.3 738.9h0M470.8 744.9h0M455.7 758.6h0M467.2 750.9h0M466.7 758.8h0M470.8 752.9h0M472.7 725.8h0M460.4 759.5h0M478.6 748.8h0M474.9 754.5h0M455.5 729.5h0M458.1 756.8h0M458.2 744.4h0M453.3 747.3h0M459.5 747.5h0M454.7 738.5h0M471.1 725.7h0M457.4 738.7h0M458.3 736.1h0M454.0 724.7h0M485.6 748.2h0M460.9 746.9h0M461.4 759.4h0M489.3 755.5h0M455.4 758.0h0M456.3 730.9h0M453.6 758.1h0M465.9 756.1h0M453.5 744.2h0M462.3 747.2h0M466.0 758.0h0M474.7 738.3h0M453.8 757.6h0M460.4 748.0h0M456.7 757.6h0M458.8 757.3h0M462.7 726.2h0M455.0 745.3h0M467.7 756.7h0M471.7 712.6h0M458.5 750.5h0M472.5 747.1h0M458.6 711.6h0M469.1 752.8h0M456.2 752.9h0M470.4 718.3h0M471.0 727.8h0M453.9 747.4h0M456.3 750.5h0M463.8 752.1h0M461.2 758.6h0M459.3 747.9h0M453.5 757.2h0M482.3 742.7h0M470.7 723.1h0M476.0 759.2h0M464.1 754.5h0M465.2 754.4h0M461.5 715.9h0M463.5 754.9h0M461.0 750.1h0M484.9 754.0h0M457.1 742.1h0M454.6 744.5h0M486.1 747.5h0M456.6 749.1h0M461.3 757.1h0M454.7 757.4h0M456.9 750.9h0M456.9 755.1h0M454.3 746.4h0M472.5 743.8h0M462.2 741.9h0M455.7 738.7h0M459.8 746.3h0M463.3 749.0h0M457.2 755.1h0M455.9 747.6h0M458.4 744.8h0M453.4 752.4h0M474.1 755.2h0M461.8 748.3h0M457.0 734.7h0M455.1 758.6h0M474.8 749.9h0M454.0 751.5h0M459.4 737.2h0M454.5 755.5h0M486.9 737.0h0M455.1 752.8h0M457.9 740.7h0M463.4 727.5h0M471.4 747.4h0M467.4 736.7h0M468.3 748.8h0M469.4 738.8h0M479.1 757.5h0M474.8 759.7h0M491.6 758.9h0M478.2 758.4h0M481.9 759.2h0M492.5 758.5h0M483.7 759.2h0M475.9 759.1h0M489.5 759.4h0M472.8 759.0h0M472.5 759.3h0M492.7 758.5h0M478.3 759.1h0M462.5 759.3h0M460.5 758.9h0M482.4 759.7h0M499.3 759.3h0M495.5 758.5h0M501.2 759.5h0M474.6 758.4h0M453.8 759.7h0M481.5 759.1h0M499.3 758.6h0M480.2 758.3h0M479.2 759.0h0M487.6 759.2h0M471.2 758.9h0M470.9 758.4h0M487.1 759.0h0M458.2 759.2h0M473.3 759.0h0M482.0 758.5h0M501.5 759.1h0M475.3 758.9h0M503.1 759.3h0M479.8 758.6h0M461.8 759.3h0M502.2 758.6h0M478.9 759.6h0M498.0 758.8h0M494.3 758.3h0M497.7 759.2h0" stroke="#000" stroke-width="2.75" stroke-linecap="round" fill="none"/>
<text x="215.20" y="482.90" class="lab">NFIA:</text>
<text transform="translate(241.15 485.30) scale(0.00731 0.00323)" style="font-size:1000px;font-weight:bold" fill="#e2201c" stroke="#e2201c" stroke-width="0.6" vector-effect="non-scaling-stroke">T</text>
<text transform="translate(241.15 483.05) scale(0.00619 0.00314)" style="font-size:1000px;font-weight:bold" fill="#1d1de6" stroke="#1d1de6" stroke-width="0.6" vector-effect="non-scaling-stroke">C</text>
<text transform="translate(241.15 480.86) scale(0.00619 0.00484)" style="font-size:1000px;font-weight:bold" fill="#1fb21f" stroke="#1fb21f" stroke-width="0.6" vector-effect="non-scaling-stroke">A</text>
<text transform="translate(241.15 477.50) scale(0.00574 0.00314)" style="font-size:1000px;font-weight:bold" fill="#f6a31a" stroke="#f6a31a" stroke-width="0.6" vector-effect="non-scaling-stroke">G</text>
<text transform="translate(245.71 485.28) scale(0.00619 0.00157)" style="font-size:1000px;font-weight:bold" fill="#1d1de6" stroke="#1d1de6" stroke-width="0.6" vector-effect="non-scaling-stroke">C</text>
<text transform="translate(245.71 484.19) scale(0.00619 0.00323)" style="font-size:1000px;font-weight:bold" fill="#1fb21f" stroke="#1fb21f" stroke-width="0.6" vector-effect="non-scaling-stroke">A</text>
<text transform="translate(245.71 481.97) scale(0.00731 0.00645)" style="font-size:1000px;font-weight:bold" fill="#e2201c" stroke="#e2201c" stroke-width="0.6" vector-effect="non-scaling-stroke">T</text>
<text transform="translate(245.71 477.50) scale(0.00574 0.00314)" style="font-size:1000px;font-weight:bold" fill="#f6a31a" stroke="#f6a31a" stroke-width="0.6" vector-effect="non-scaling-stroke">G</text>
<text transform="translate(250.27 485.30) scale(0.00731 0.01452)" style="font-size:1000px;font-weight:bold" fill="#e2201c" stroke="#e2201c" stroke-width="0.6" vector-effect="non-scaling-stroke">T</text>
<text transform="translate(254.83 485.16) scale(0.00574 0.01411)" style="font-size:1000px;font-weight:bold" fill="#f6a31a" stroke="#f6a31a" stroke-width="0.6" vector-effect="non-scaling-stroke">G</text>
<text transform="translate(259.39 485.16) scale(0.00619 0.01411)" style="font-size:1000px;font-weight:bold" fill="#1d1de6" stroke="#1d1de6" stroke-width="0.6" vector-effect="non-scaling-stroke">C</text>
<text transform="translate(263.95 485.16) scale(0.00619 0.01411)" style="font-size:1000px;font-weight:bold" fill="#1d1de6" stroke="#1d1de6" stroke-width="0.6" vector-effect="non-scaling-stroke">C</text>
<text transform="translate(268.51 485.30) scale(0.00619 0.01452)" style="font-size:1000px;font-weight:bold" fill="#1fb21f" stroke="#1fb21f" stroke-width="0.6" vector-effect="non-scaling-stroke">A</text>
<text transform="translate(273.07 485.30) scale(0.00619 0.01129)" style="font-size:1000px;font-weight:bold" fill="#1fb21f" stroke="#1fb21f" stroke-width="0.6" vector-effect="non-scaling-stroke">A</text>
<text transform="translate(277.63 485.30) scale(0.00731 0.00161)" style="font-size:1000px;font-weight:bold" fill="#e2201c" stroke="#e2201c" stroke-width="0.6" vector-effect="non-scaling-stroke">T</text>
<text transform="translate(277.63 484.16) scale(0.00619 0.00314)" style="font-size:1000px;font-weight:bold" fill="#1d1de6" stroke="#1d1de6" stroke-width="0.6" vector-effect="non-scaling-stroke">C</text>
<text transform="translate(277.63 481.97) scale(0.00619 0.00484)" style="font-size:1000px;font-weight:bold" fill="#1fb21f" stroke="#1fb21f" stroke-width="0.6" vector-effect="non-scaling-stroke">A</text>
<text transform="translate(277.63 478.62) scale(0.00574 0.00157)" style="font-size:1000px;font-weight:bold" fill="#f6a31a" stroke="#f6a31a" stroke-width="0.6" vector-effect="non-scaling-stroke">G</text>
<text transform="translate(282.19 485.27) scale(0.00619 0.00314)" style="font-size:1000px;font-weight:bold" fill="#1d1de6" stroke="#1d1de6" stroke-width="0.6" vector-effect="non-scaling-stroke">C</text>
<text transform="translate(282.19 483.08) scale(0.00619 0.00484)" style="font-size:1000px;font-weight:bold" fill="#1fb21f" stroke="#1fb21f" stroke-width="0.6" vector-effect="non-scaling-stroke">A</text>
<text transform="translate(282.19 479.75) scale(0.00731 0.00484)" style="font-size:1000px;font-weight:bold" fill="#e2201c" stroke="#e2201c" stroke-width="0.6" vector-effect="non-scaling-stroke">T</text>
<text x="166.50" y="495.20" class="lab">NFIX:</text>
<text transform="translate(192.35 499.60) scale(0.00802 0.00195)" style="font-size:1000px;font-weight:bold" fill="#e2201c" stroke="#e2201c" stroke-width="0.6" vector-effect="non-scaling-stroke">T</text>
<text transform="translate(192.35 498.26) scale(0.00679 0.00584)" style="font-size:1000px;font-weight:bold" fill="#1fb21f" stroke="#1fb21f" stroke-width="0.6" vector-effect="non-scaling-stroke">A</text>
<text transform="translate(192.35 494.20) scale(0.00630 0.00379)" style="font-size:1000px;font-weight:bold" fill="#f6a31a" stroke="#f6a31a" stroke-width="0.6" vector-effect="non-scaling-stroke">G</text>
<text transform="translate(192.35 491.52) scale(0.00679 0.00379)" style="font-size:1000px;font-weight:bold" fill="#1d1de6" stroke="#1d1de6" stroke-width="0.6" vector-effect="non-scaling-stroke">C</text>
<text transform="translate(197.35 499.58) scale(0.00679 0.00189)" style="font-size:1000px;font-weight:bold" fill="#1d1de6" stroke="#1d1de6" stroke-width="0.6" vector-effect="non-scaling-stroke">C</text>
<text transform="translate(197.35 498.26) scale(0.00679 0.00390)" style="font-size:1000px;font-weight:bold" fill="#1fb21f" stroke="#1fb21f" stroke-width="0.6" vector-effect="non-scaling-stroke">A</text>
<text transform="translate(197.35 495.58) scale(0.00802 0.00584)" style="font-size:1000px;font-weight:bold" fill="#e2201c" stroke="#e2201c" stroke-width="0.6" vector-effect="non-scaling-stroke">T</text>
<text transform="translate(197.35 491.52) scale(0.00630 0.00379)" style="font-size:1000px;font-weight:bold" fill="#f6a31a" stroke="#f6a31a" stroke-width="0.6" vector-effect="non-scaling-stroke">G</text>
<text transform="translate(202.35 499.58) scale(0.00679 0.00189)" style="font-size:1000px;font-weight:bold" fill="#1d1de6" stroke="#1d1de6" stroke-width="0.6" vector-effect="non-scaling-stroke">C</text>
<text transform="translate(202.35 498.26) scale(0.00679 0.00390)" style="font-size:1000px;font-weight:bold" fill="#1fb21f" stroke="#1fb21f" stroke-width="0.6" vector-effect="non-scaling-stroke">A</text>
<text transform="translate(202.35 495.58) scale(0.00802 0.00974)" style="font-size:1000px;font-weight:bold" fill="#e2201c" stroke="#e2201c" stroke-width="0.6" vector-effect="non-scaling-stroke">T</text>
<text transform="translate(207.35 499.43) scale(0.00630 0.01703)" style="font-size:1000px;font-weight:bold" fill="#f6a31a" stroke="#f6a31a" stroke-width="0.6" vector-effect="non-scaling-stroke">G</text>
<text transform="translate(212.35 499.43) scale(0.00679 0.01703)" style="font-size:1000px;font-weight:bold" fill="#1d1de6" stroke="#1d1de6" stroke-width="0.6" vector-effect="non-scaling-stroke">C</text>
<text transform="translate(217.35 499.43) scale(0.00679 0.01703)" style="font-size:1000px;font-weight:bold" fill="#1d1de6" stroke="#1d1de6" stroke-width="0.6" vector-effect="non-scaling-stroke">C</text>
<text transform="translate(222.35 499.60) scale(0.00679 0.01558)" style="font-size:1000px;font-weight:bold" fill="#1fb21f" stroke="#1fb21f" stroke-width="0.6" vector-effect="non-scaling-stroke">A</text>
<text transform="translate(227.35 499.60) scale(0.00802 0.00195)" style="font-size:1000px;font-weight:bold" fill="#e2201c" stroke="#e2201c" stroke-width="0.6" vector-effect="non-scaling-stroke">T</text>
<text transform="translate(227.35 498.22) scale(0.00630 0.00379)" style="font-size:1000px;font-weight:bold" fill="#f6a31a" stroke="#f6a31a" stroke-width="0.6" vector-effect="non-scaling-stroke">G</text>
<text transform="translate(227.35 495.58) scale(0.00679 0.00974)" style="font-size:1000px;font-weight:bold" fill="#1fb21f" stroke="#1fb21f" stroke-width="0.6" vector-effect="non-scaling-stroke">A</text>
<text transform="translate(232.35 499.60) scale(0.00802 0.00195)" style="font-size:1000px;font-weight:bold" fill="#e2201c" stroke="#e2201c" stroke-width="0.6" vector-effect="non-scaling-stroke">T</text>
<text transform="translate(232.35 498.26) scale(0.00679 0.00584)" style="font-size:1000px;font-weight:bold" fill="#1fb21f" stroke="#1fb21f" stroke-width="0.6" vector-effect="non-scaling-stroke">A</text>
<text transform="translate(232.35 494.20) scale(0.00679 0.00379)" style="font-size:1000px;font-weight:bold" fill="#1d1de6" stroke="#1d1de6" stroke-width="0.6" vector-effect="non-scaling-stroke">C</text>
<text transform="translate(232.35 491.52) scale(0.00630 0.00379)" style="font-size:1000px;font-weight:bold" fill="#f6a31a" stroke="#f6a31a" stroke-width="0.6" vector-effect="non-scaling-stroke">G</text>
<text x="122.70" y="526.70" class="lab">RORC:</text>
<text transform="translate(155.05 530.28) scale(0.00636 0.00174)" style="font-size:1000px;font-weight:bold" fill="#1d1de6" stroke="#1d1de6" stroke-width="0.6" vector-effect="non-scaling-stroke">C</text>
<text transform="translate(155.05 529.07) scale(0.00751 0.00179)" style="font-size:1000px;font-weight:bold" fill="#e2201c" stroke="#e2201c" stroke-width="0.6" vector-effect="non-scaling-stroke">T</text>
<text transform="translate(155.05 527.81) scale(0.00590 0.00347)" style="font-size:1000px;font-weight:bold" fill="#f6a31a" stroke="#f6a31a" stroke-width="0.6" vector-effect="non-scaling-stroke">G</text>
<text transform="translate(155.05 525.38) scale(0.00636 0.00715)" style="font-size:1000px;font-weight:bold" fill="#1fb21f" stroke="#1fb21f" stroke-width="0.6" vector-effect="non-scaling-stroke">A</text>
<text transform="translate(159.73 530.28) scale(0.00636 0.00174)" style="font-size:1000px;font-weight:bold" fill="#1d1de6" stroke="#1d1de6" stroke-width="0.6" vector-effect="non-scaling-stroke">C</text>
<text transform="translate(159.73 529.05) scale(0.00590 0.00174)" style="font-size:1000px;font-weight:bold" fill="#f6a31a" stroke="#f6a31a" stroke-width="0.6" vector-effect="non-scaling-stroke">G</text>
<text transform="translate(159.73 527.84) scale(0.00636 0.00536)" style="font-size:1000px;font-weight:bold" fill="#1fb21f" stroke="#1fb21f" stroke-width="0.6" vector-effect="non-scaling-stroke">A</text>
<text transform="translate(159.73 524.15) scale(0.00751 0.00536)" style="font-size:1000px;font-weight:bold" fill="#e2201c" stroke="#e2201c" stroke-width="0.6" vector-effect="non-scaling-stroke">T</text>
<text transform="translate(164.41 530.30) scale(0.00751 0.00358)" style="font-size:1000px;font-weight:bold" fill="#e2201c" stroke="#e2201c" stroke-width="0.6" vector-effect="non-scaling-stroke">T</text>
<text transform="translate(164.41 527.84) scale(0.00636 0.01073)" style="font-size:1000px;font-weight:bold" fill="#1fb21f" stroke="#1fb21f" stroke-width="0.6" vector-effect="non-scaling-stroke">A</text>
<text transform="translate(169.10 530.30) scale(0.00751 0.00358)" style="font-size:1000px;font-weight:bold" fill="#e2201c" stroke="#e2201c" stroke-width="0.6" vector-effect="non-scaling-stroke">T</text>
<text transform="translate(169.10 527.84) scale(0.00636 0.00894)" style="font-size:1000px;font-weight:bold" fill="#1fb21f" stroke="#1fb21f" stroke-width="0.6" vector-effect="non-scaling-stroke">A</text>
<text transform="translate(173.78 530.30) scale(0.00636 0.00358)" style="font-size:1000px;font-weight:bold" fill="#1fb21f" stroke="#1fb21f" stroke-width="0.6" vector-effect="non-scaling-stroke">A</text>
<text transform="translate(173.78 527.81) scale(0.00636 0.00347)" style="font-size:1000px;font-weight:bold" fill="#1d1de6" stroke="#1d1de6" stroke-width="0.6" vector-effect="non-scaling-stroke">C</text>
<text transform="translate(173.78 525.38) scale(0.00751 0.00536)" style="font-size:1000px;font-weight:bold" fill="#e2201c" stroke="#e2201c" stroke-width="0.6" vector-effect="non-scaling-stroke">T</text>
<text transform="translate(173.78 521.67) scale(0.00590 0.00174)" style="font-size:1000px;font-weight:bold" fill="#f6a31a" stroke="#f6a31a" stroke-width="0.6" vector-effect="non-scaling-stroke">G</text>
<text transform="translate(178.46 530.30) scale(0.00751 0.01430)" style="font-size:1000px;font-weight:bold" fill="#e2201c" stroke="#e2201c" stroke-width="0.6" vector-effect="non-scaling-stroke">T</text>
<text transform="translate(183.15 530.27) scale(0.00590 0.00347)" style="font-size:1000px;font-weight:bold" fill="#f6a31a" stroke="#f6a31a" stroke-width="0.6" vector-effect="non-scaling-stroke">G</text>
<text transform="translate(183.15 527.84) scale(0.00636 0.00894)" style="font-size:1000px;font-weight:bold" fill="#1fb21f" stroke="#1fb21f" stroke-width="0.6" vector-effect="non-scaling-stroke">A</text>
<text transform="translate(187.83 530.16) scale(0.00590 0.01390)" style="font-size:1000px;font-weight:bold" fill="#f6a31a" stroke="#f6a31a" stroke-width="0.6" vector-effect="non-scaling-stroke">G</text>
<text transform="translate(192.51 530.16) scale(0.00590 0.01390)" style="font-size:1000px;font-weight:bold" fill="#f6a31a" stroke="#f6a31a" stroke-width="0.6" vector-effect="non-scaling-stroke">G</text>
<text transform="translate(197.20 530.30) scale(0.00751 0.01251)" style="font-size:1000px;font-weight:bold" fill="#e2201c" stroke="#e2201c" stroke-width="0.6" vector-effect="non-scaling-stroke">T</text>
<text transform="translate(201.88 530.16) scale(0.00636 0.01390)" style="font-size:1000px;font-weight:bold" fill="#1d1de6" stroke="#1d1de6" stroke-width="0.6" vector-effect="non-scaling-stroke">C</text>
<text transform="translate(206.56 530.30) scale(0.00636 0.01430)" style="font-size:1000px;font-weight:bold" fill="#1fb21f" stroke="#1fb21f" stroke-width="0.6" vector-effect="non-scaling-stroke">A</text>
<text x="133.10" y="561.00" class="lab">NFIC:</text>
<text transform="translate(159.05 564.66) scale(0.00645 0.00393)" style="font-size:1000px;font-weight:bold" fill="#f6a31a" stroke="#f6a31a" stroke-width="0.6" vector-effect="non-scaling-stroke">G</text>
<text transform="translate(159.05 561.92) scale(0.00695 0.00404)" style="font-size:1000px;font-weight:bold" fill="#1fb21f" stroke="#1fb21f" stroke-width="0.6" vector-effect="non-scaling-stroke">A</text>
<text transform="translate(159.05 559.10) scale(0.00695 0.00393)" style="font-size:1000px;font-weight:bold" fill="#1d1de6" stroke="#1d1de6" stroke-width="0.6" vector-effect="non-scaling-stroke">C</text>
<text transform="translate(159.05 556.36) scale(0.00821 0.00606)" style="font-size:1000px;font-weight:bold" fill="#e2201c" stroke="#e2201c" stroke-width="0.6" vector-effect="non-scaling-stroke">T</text>
<text transform="translate(164.17 564.68) scale(0.00645 0.00196)" style="font-size:1000px;font-weight:bold" fill="#f6a31a" stroke="#f6a31a" stroke-width="0.6" vector-effect="non-scaling-stroke">G</text>
<text transform="translate(164.17 563.27) scale(0.00695 0.00393)" style="font-size:1000px;font-weight:bold" fill="#1d1de6" stroke="#1d1de6" stroke-width="0.6" vector-effect="non-scaling-stroke">C</text>
<text transform="translate(164.17 560.53) scale(0.00821 0.00606)" style="font-size:1000px;font-weight:bold" fill="#e2201c" stroke="#e2201c" stroke-width="0.6" vector-effect="non-scaling-stroke">T</text>
<text transform="translate(164.17 556.36) scale(0.00695 0.00404)" style="font-size:1000px;font-weight:bold" fill="#1fb21f" stroke="#1fb21f" stroke-width="0.6" vector-effect="non-scaling-stroke">A</text>
<text transform="translate(169.29 564.52) scale(0.00695 0.01767)" style="font-size:1000px;font-weight:bold" fill="#1d1de6" stroke="#1d1de6" stroke-width="0.6" vector-effect="non-scaling-stroke">C</text>
<text transform="translate(174.41 564.70) scale(0.00821 0.01818)" style="font-size:1000px;font-weight:bold" fill="#e2201c" stroke="#e2201c" stroke-width="0.6" vector-effect="non-scaling-stroke">T</text>
<text transform="translate(179.52 564.70) scale(0.00821 0.01818)" style="font-size:1000px;font-weight:bold" fill="#e2201c" stroke="#e2201c" stroke-width="0.6" vector-effect="non-scaling-stroke">T</text>
<text transform="translate(184.64 564.52) scale(0.00645 0.01767)" style="font-size:1000px;font-weight:bold" fill="#f6a31a" stroke="#f6a31a" stroke-width="0.6" vector-effect="non-scaling-stroke">G</text>
<text transform="translate(189.76 564.52) scale(0.00645 0.01767)" style="font-size:1000px;font-weight:bold" fill="#f6a31a" stroke="#f6a31a" stroke-width="0.6" vector-effect="non-scaling-stroke">G</text>
<text transform="translate(194.88 564.52) scale(0.00695 0.01767)" style="font-size:1000px;font-weight:bold" fill="#1d1de6" stroke="#1d1de6" stroke-width="0.6" vector-effect="non-scaling-stroke">C</text>
<text transform="translate(200.00 564.70) scale(0.00695 0.01616)" style="font-size:1000px;font-weight:bold" fill="#1fb21f" stroke="#1fb21f" stroke-width="0.6" vector-effect="non-scaling-stroke">A</text>
<text transform="translate(205.11 564.70) scale(0.00695 0.00404)" style="font-size:1000px;font-weight:bold" fill="#1fb21f" stroke="#1fb21f" stroke-width="0.6" vector-effect="non-scaling-stroke">A</text>
<text transform="translate(205.11 561.92) scale(0.00821 0.00404)" style="font-size:1000px;font-weight:bold" fill="#e2201c" stroke="#e2201c" stroke-width="0.6" vector-effect="non-scaling-stroke">T</text>
<text transform="translate(205.11 559.10) scale(0.00695 0.00393)" style="font-size:1000px;font-weight:bold" fill="#1d1de6" stroke="#1d1de6" stroke-width="0.6" vector-effect="non-scaling-stroke">C</text>
<text transform="translate(205.11 556.32) scale(0.00645 0.00393)" style="font-size:1000px;font-weight:bold" fill="#f6a31a" stroke="#f6a31a" stroke-width="0.6" vector-effect="non-scaling-stroke">G</text>
<text transform="translate(210.23 564.68) scale(0.00645 0.00196)" style="font-size:1000px;font-weight:bold" fill="#f6a31a" stroke="#f6a31a" stroke-width="0.6" vector-effect="non-scaling-stroke">G</text>
<text transform="translate(210.23 563.27) scale(0.00695 0.00393)" style="font-size:1000px;font-weight:bold" fill="#1d1de6" stroke="#1d1de6" stroke-width="0.6" vector-effect="non-scaling-stroke">C</text>
<text transform="translate(210.23 560.53) scale(0.00821 0.00404)" style="font-size:1000px;font-weight:bold" fill="#e2201c" stroke="#e2201c" stroke-width="0.6" vector-effect="non-scaling-stroke">T</text>
<text transform="translate(210.23 557.75) scale(0.00695 0.00606)" style="font-size:1000px;font-weight:bold" fill="#1fb21f" stroke="#1fb21f" stroke-width="0.6" vector-effect="non-scaling-stroke">A</text>
<text x="214.90" y="589.40" class="lab">RORB:</text>
<text transform="translate(247.05 593.10) scale(0.00796 0.00196)" style="font-size:1000px;font-weight:bold" fill="#e2201c" stroke="#e2201c" stroke-width="0.6" vector-effect="non-scaling-stroke">T</text>
<text transform="translate(247.05 591.75) scale(0.00674 0.01570)" style="font-size:1000px;font-weight:bold" fill="#1fb21f" stroke="#1fb21f" stroke-width="0.6" vector-effect="non-scaling-stroke">A</text>
<text transform="translate(252.01 593.10) scale(0.00796 0.00589)" style="font-size:1000px;font-weight:bold" fill="#e2201c" stroke="#e2201c" stroke-width="0.6" vector-effect="non-scaling-stroke">T</text>
<text transform="translate(252.01 589.05) scale(0.00674 0.00981)" style="font-size:1000px;font-weight:bold" fill="#1fb21f" stroke="#1fb21f" stroke-width="0.6" vector-effect="non-scaling-stroke">A</text>
<text transform="translate(256.98 593.08) scale(0.00674 0.00191)" style="font-size:1000px;font-weight:bold" fill="#1d1de6" stroke="#1d1de6" stroke-width="0.6" vector-effect="non-scaling-stroke">C</text>
<text transform="translate(256.98 591.73) scale(0.00625 0.00191)" style="font-size:1000px;font-weight:bold" fill="#f6a31a" stroke="#f6a31a" stroke-width="0.6" vector-effect="non-scaling-stroke">G</text>
<text transform="translate(256.98 590.40) scale(0.00674 0.00392)" style="font-size:1000px;font-weight:bold" fill="#1fb21f" stroke="#1fb21f" stroke-width="0.6" vector-effect="non-scaling-stroke">A</text>
<text transform="translate(256.98 587.70) scale(0.00796 0.00785)" style="font-size:1000px;font-weight:bold" fill="#e2201c" stroke="#e2201c" stroke-width="0.6" vector-effect="non-scaling-stroke">T</text>
<text transform="translate(261.94 593.08) scale(0.00674 0.00191)" style="font-size:1000px;font-weight:bold" fill="#1d1de6" stroke="#1d1de6" stroke-width="0.6" vector-effect="non-scaling-stroke">C</text>
<text transform="translate(261.94 591.71) scale(0.00625 0.00381)" style="font-size:1000px;font-weight:bold" fill="#f6a31a" stroke="#f6a31a" stroke-width="0.6" vector-effect="non-scaling-stroke">G</text>
<text transform="translate(261.94 589.05) scale(0.00796 0.00981)" style="font-size:1000px;font-weight:bold" fill="#e2201c" stroke="#e2201c" stroke-width="0.6" vector-effect="non-scaling-stroke">T</text>
<text transform="translate(266.90 593.06) scale(0.00625 0.00381)" style="font-size:1000px;font-weight:bold" fill="#f6a31a" stroke="#f6a31a" stroke-width="0.6" vector-effect="non-scaling-stroke">G</text>
<text transform="translate(266.90 590.40) scale(0.00674 0.00981)" style="font-size:1000px;font-weight:bold" fill="#1fb21f" stroke="#1fb21f" stroke-width="0.6" vector-effect="non-scaling-stroke">A</text>
<text transform="translate(271.87 592.95) scale(0.00625 0.01525)" style="font-size:1000px;font-weight:bold" fill="#f6a31a" stroke="#f6a31a" stroke-width="0.6" vector-effect="non-scaling-stroke">G</text>
<text transform="translate(276.83 592.95) scale(0.00625 0.01525)" style="font-size:1000px;font-weight:bold" fill="#f6a31a" stroke="#f6a31a" stroke-width="0.6" vector-effect="non-scaling-stroke">G</text>
<text transform="translate(281.80 593.10) scale(0.00796 0.01570)" style="font-size:1000px;font-weight:bold" fill="#e2201c" stroke="#e2201c" stroke-width="0.6" vector-effect="non-scaling-stroke">T</text>
<text transform="translate(286.76 592.97) scale(0.00674 0.01335)" style="font-size:1000px;font-weight:bold" fill="#1d1de6" stroke="#1d1de6" stroke-width="0.6" vector-effect="non-scaling-stroke">C</text>
<text transform="translate(291.72 593.10) scale(0.00674 0.01374)" style="font-size:1000px;font-weight:bold" fill="#1fb21f" stroke="#1fb21f" stroke-width="0.6" vector-effect="non-scaling-stroke">A</text>
<text transform="translate(296.69 593.08) scale(0.00625 0.00191)" style="font-size:1000px;font-weight:bold" fill="#f6a31a" stroke="#f6a31a" stroke-width="0.6" vector-effect="non-scaling-stroke">G</text>
<text transform="translate(296.69 591.75) scale(0.00796 0.00785)" style="font-size:1000px;font-weight:bold" fill="#e2201c" stroke="#e2201c" stroke-width="0.6" vector-effect="non-scaling-stroke">T</text>
<text transform="translate(296.69 586.31) scale(0.00674 0.00381)" style="font-size:1000px;font-weight:bold" fill="#1d1de6" stroke="#1d1de6" stroke-width="0.6" vector-effect="non-scaling-stroke">C</text>
<text x="121.70" y="613.50" class="lab">NKX6-2:</text>
<text transform="translate(160.65 615.90) scale(0.00635 0.00180)" style="font-size:1000px;font-weight:bold" fill="#1fb21f" stroke="#1fb21f" stroke-width="0.6" vector-effect="non-scaling-stroke">A</text>
<text transform="translate(160.65 614.66) scale(0.00750 0.00360)" style="font-size:1000px;font-weight:bold" fill="#e2201c" stroke="#e2201c" stroke-width="0.6" vector-effect="non-scaling-stroke">T</text>
<text transform="translate(160.65 612.13) scale(0.00589 0.00525)" style="font-size:1000px;font-weight:bold" fill="#f6a31a" stroke="#f6a31a" stroke-width="0.6" vector-effect="non-scaling-stroke">G</text>
<text transform="translate(160.65 608.42) scale(0.00635 0.00350)" style="font-size:1000px;font-weight:bold" fill="#1d1de6" stroke="#1d1de6" stroke-width="0.6" vector-effect="non-scaling-stroke">C</text>
<text transform="translate(165.32 615.85) scale(0.00635 0.00525)" style="font-size:1000px;font-weight:bold" fill="#1d1de6" stroke="#1d1de6" stroke-width="0.6" vector-effect="non-scaling-stroke">C</text>
<text transform="translate(165.32 612.18) scale(0.00750 0.00901)" style="font-size:1000px;font-weight:bold" fill="#e2201c" stroke="#e2201c" stroke-width="0.6" vector-effect="non-scaling-stroke">T</text>
<text transform="translate(170.00 615.85) scale(0.00635 0.00525)" style="font-size:1000px;font-weight:bold" fill="#1d1de6" stroke="#1d1de6" stroke-width="0.6" vector-effect="non-scaling-stroke">C</text>
<text transform="translate(170.00 612.18) scale(0.00635 0.00901)" style="font-size:1000px;font-weight:bold" fill="#1fb21f" stroke="#1fb21f" stroke-width="0.6" vector-effect="non-scaling-stroke">A</text>
<text transform="translate(174.68 615.90) scale(0.00635 0.01442)" style="font-size:1000px;font-weight:bold" fill="#1fb21f" stroke="#1fb21f" stroke-width="0.6" vector-effect="non-scaling-stroke">A</text>
<text transform="translate(179.36 615.90) scale(0.00635 0.01622)" style="font-size:1000px;font-weight:bold" fill="#1fb21f" stroke="#1fb21f" stroke-width="0.6" vector-effect="non-scaling-stroke">A</text>
<text transform="translate(184.04 615.90) scale(0.00750 0.01622)" style="font-size:1000px;font-weight:bold" fill="#e2201c" stroke="#e2201c" stroke-width="0.6" vector-effect="non-scaling-stroke">T</text>
<text transform="translate(188.71 615.90) scale(0.00750 0.01622)" style="font-size:1000px;font-weight:bold" fill="#e2201c" stroke="#e2201c" stroke-width="0.6" vector-effect="non-scaling-stroke">T</text>
<text transform="translate(193.39 615.90) scale(0.00635 0.01442)" style="font-size:1000px;font-weight:bold" fill="#1fb21f" stroke="#1fb21f" stroke-width="0.6" vector-effect="non-scaling-stroke">A</text>
<text transform="translate(198.07 615.86) scale(0.00635 0.00350)" style="font-size:1000px;font-weight:bold" fill="#1d1de6" stroke="#1d1de6" stroke-width="0.6" vector-effect="non-scaling-stroke">C</text>
<text transform="translate(198.07 613.42) scale(0.00750 0.00180)" style="font-size:1000px;font-weight:bold" fill="#e2201c" stroke="#e2201c" stroke-width="0.6" vector-effect="non-scaling-stroke">T</text>
<text transform="translate(198.07 612.18) scale(0.00635 0.00901)" style="font-size:1000px;font-weight:bold" fill="#1fb21f" stroke="#1fb21f" stroke-width="0.6" vector-effect="non-scaling-stroke">A</text>
<text x="135.00" y="626.40" class="lab">EMX2:</text>
<text transform="translate(164.85 630.70) scale(0.00730 0.00193)" style="font-size:1000px;font-weight:bold" fill="#e2201c" stroke="#e2201c" stroke-width="0.6" vector-effect="non-scaling-stroke">T</text>
<text transform="translate(164.85 629.33) scale(0.00618 0.00376)" style="font-size:1000px;font-weight:bold" fill="#1d1de6" stroke="#1d1de6" stroke-width="0.6" vector-effect="non-scaling-stroke">C</text>
<text transform="translate(164.85 626.71) scale(0.00618 0.00387)" style="font-size:1000px;font-weight:bold" fill="#1fb21f" stroke="#1fb21f" stroke-width="0.6" vector-effect="non-scaling-stroke">A</text>
<text transform="translate(164.85 624.01) scale(0.00573 0.00376)" style="font-size:1000px;font-weight:bold" fill="#f6a31a" stroke="#f6a31a" stroke-width="0.6" vector-effect="non-scaling-stroke">G</text>
<text transform="translate(169.40 630.70) scale(0.00730 0.00193)" style="font-size:1000px;font-weight:bold" fill="#e2201c" stroke="#e2201c" stroke-width="0.6" vector-effect="non-scaling-stroke">T</text>
<text transform="translate(169.40 629.31) scale(0.00573 0.00564)" style="font-size:1000px;font-weight:bold" fill="#f6a31a" stroke="#f6a31a" stroke-width="0.6" vector-effect="non-scaling-stroke">G</text>
<text transform="translate(169.40 625.32) scale(0.00618 0.00564)" style="font-size:1000px;font-weight:bold" fill="#1d1de6" stroke="#1d1de6" stroke-width="0.6" vector-effect="non-scaling-stroke">C</text>
<text transform="translate(173.95 630.70) scale(0.00730 0.01740)" style="font-size:1000px;font-weight:bold" fill="#e2201c" stroke="#e2201c" stroke-width="0.6" vector-effect="non-scaling-stroke">T</text>
<text transform="translate(178.50 630.70) scale(0.00618 0.01740)" style="font-size:1000px;font-weight:bold" fill="#1fb21f" stroke="#1fb21f" stroke-width="0.6" vector-effect="non-scaling-stroke">A</text>
<text transform="translate(183.05 630.70) scale(0.00618 0.01740)" style="font-size:1000px;font-weight:bold" fill="#1fb21f" stroke="#1fb21f" stroke-width="0.6" vector-effect="non-scaling-stroke">A</text>
<text transform="translate(187.60 630.70) scale(0.00730 0.01740)" style="font-size:1000px;font-weight:bold" fill="#e2201c" stroke="#e2201c" stroke-width="0.6" vector-effect="non-scaling-stroke">T</text>
<text transform="translate(192.15 630.70) scale(0.00730 0.01740)" style="font-size:1000px;font-weight:bold" fill="#e2201c" stroke="#e2201c" stroke-width="0.6" vector-effect="non-scaling-stroke">T</text>
<text transform="translate(196.70 630.68) scale(0.00618 0.00188)" style="font-size:1000px;font-weight:bold" fill="#1d1de6" stroke="#1d1de6" stroke-width="0.6" vector-effect="non-scaling-stroke">C</text>
<text transform="translate(196.70 629.37) scale(0.00618 0.01353)" style="font-size:1000px;font-weight:bold" fill="#1fb21f" stroke="#1fb21f" stroke-width="0.6" vector-effect="non-scaling-stroke">A</text>
<text transform="translate(201.25 630.68) scale(0.00618 0.00188)" style="font-size:1000px;font-weight:bold" fill="#1d1de6" stroke="#1d1de6" stroke-width="0.6" vector-effect="non-scaling-stroke">C</text>
<text transform="translate(201.25 629.37) scale(0.00618 0.00387)" style="font-size:1000px;font-weight:bold" fill="#1fb21f" stroke="#1fb21f" stroke-width="0.6" vector-effect="non-scaling-stroke">A</text>
<text transform="translate(201.25 626.63) scale(0.00573 0.00751)" style="font-size:1000px;font-weight:bold" fill="#f6a31a" stroke="#f6a31a" stroke-width="0.6" vector-effect="non-scaling-stroke">G</text>
<text transform="translate(205.80 630.70) scale(0.00618 0.00193)" style="font-size:1000px;font-weight:bold" fill="#1fb21f" stroke="#1fb21f" stroke-width="0.6" vector-effect="non-scaling-stroke">A</text>
<text transform="translate(205.80 629.31) scale(0.00573 0.00564)" style="font-size:1000px;font-weight:bold" fill="#f6a31a" stroke="#f6a31a" stroke-width="0.6" vector-effect="non-scaling-stroke">G</text>
<text transform="translate(205.80 625.32) scale(0.00618 0.00564)" style="font-size:1000px;font-weight:bold" fill="#1d1de6" stroke="#1d1de6" stroke-width="0.6" vector-effect="non-scaling-stroke">C</text>
<text x="473.60" y="505.90" class="lab">EMX2:</text>
<text transform="translate(503.85 508.60) scale(0.00738 0.00182)" style="font-size:1000px;font-weight:bold" fill="#e2201c" stroke="#e2201c" stroke-width="0.6" vector-effect="non-scaling-stroke">T</text>
<text transform="translate(503.85 507.31) scale(0.00624 0.00353)" style="font-size:1000px;font-weight:bold" fill="#1d1de6" stroke="#1d1de6" stroke-width="0.6" vector-effect="non-scaling-stroke">C</text>
<text transform="translate(503.85 504.85) scale(0.00624 0.00363)" style="font-size:1000px;font-weight:bold" fill="#1fb21f" stroke="#1fb21f" stroke-width="0.6" vector-effect="non-scaling-stroke">A</text>
<text transform="translate(503.85 502.31) scale(0.00579 0.00353)" style="font-size:1000px;font-weight:bold" fill="#f6a31a" stroke="#f6a31a" stroke-width="0.6" vector-effect="non-scaling-stroke">G</text>
<text transform="translate(508.45 508.60) scale(0.00738 0.00182)" style="font-size:1000px;font-weight:bold" fill="#e2201c" stroke="#e2201c" stroke-width="0.6" vector-effect="non-scaling-stroke">T</text>
<text transform="translate(508.45 507.30) scale(0.00579 0.00530)" style="font-size:1000px;font-weight:bold" fill="#f6a31a" stroke="#f6a31a" stroke-width="0.6" vector-effect="non-scaling-stroke">G</text>
<text transform="translate(508.45 503.55) scale(0.00624 0.00530)" style="font-size:1000px;font-weight:bold" fill="#1d1de6" stroke="#1d1de6" stroke-width="0.6" vector-effect="non-scaling-stroke">C</text>
<text transform="translate(513.05 508.60) scale(0.00738 0.01635)" style="font-size:1000px;font-weight:bold" fill="#e2201c" stroke="#e2201c" stroke-width="0.6" vector-effect="non-scaling-stroke">T</text>
<text transform="translate(517.65 508.60) scale(0.00624 0.01635)" style="font-size:1000px;font-weight:bold" fill="#1fb21f" stroke="#1fb21f" stroke-width="0.6" vector-effect="non-scaling-stroke">A</text>
<text transform="translate(522.25 508.60) scale(0.00624 0.01635)" style="font-size:1000px;font-weight:bold" fill="#1fb21f" stroke="#1fb21f" stroke-width="0.6" vector-effect="non-scaling-stroke">A</text>
<text transform="translate(526.85 508.60) scale(0.00738 0.01635)" style="font-size:1000px;font-weight:bold" fill="#e2201c" stroke="#e2201c" stroke-width="0.6" vector-effect="non-scaling-stroke">T</text>
<text transform="translate(531.45 508.60) scale(0.00738 0.01635)" style="font-size:1000px;font-weight:bold" fill="#e2201c" stroke="#e2201c" stroke-width="0.6" vector-effect="non-scaling-stroke">T</text>
<text transform="translate(536.05 508.58) scale(0.00624 0.00177)" style="font-size:1000px;font-weight:bold" fill="#1d1de6" stroke="#1d1de6" stroke-width="0.6" vector-effect="non-scaling-stroke">C</text>
<text transform="translate(536.05 507.35) scale(0.00624 0.01272)" style="font-size:1000px;font-weight:bold" fill="#1fb21f" stroke="#1fb21f" stroke-width="0.6" vector-effect="non-scaling-stroke">A</text>
<text transform="translate(540.65 508.58) scale(0.00624 0.00177)" style="font-size:1000px;font-weight:bold" fill="#1d1de6" stroke="#1d1de6" stroke-width="0.6" vector-effect="non-scaling-stroke">C</text>
<text transform="translate(540.65 507.35) scale(0.00624 0.00363)" style="font-size:1000px;font-weight:bold" fill="#1fb21f" stroke="#1fb21f" stroke-width="0.6" vector-effect="non-scaling-stroke">A</text>
<text transform="translate(540.65 504.80) scale(0.00579 0.00530)" style="font-size:1000px;font-weight:bold" fill="#f6a31a" stroke="#f6a31a" stroke-width="0.6" vector-effect="non-scaling-stroke">G</text>
<text transform="translate(545.25 508.60) scale(0.00624 0.00182)" style="font-size:1000px;font-weight:bold" fill="#1fb21f" stroke="#1fb21f" stroke-width="0.6" vector-effect="non-scaling-stroke">A</text>
<text transform="translate(545.25 507.30) scale(0.00579 0.00530)" style="font-size:1000px;font-weight:bold" fill="#f6a31a" stroke="#f6a31a" stroke-width="0.6" vector-effect="non-scaling-stroke">G</text>
<text transform="translate(545.25 503.55) scale(0.00624 0.00530)" style="font-size:1000px;font-weight:bold" fill="#1d1de6" stroke="#1d1de6" stroke-width="0.6" vector-effect="non-scaling-stroke">C</text>
<text x="512.50" y="521.80" class="lab">Arx:</text>
<text transform="translate(530.54 524.20) scale(0.00539 0.00154)" style="font-size:1000px;font-weight:bold" fill="#1fb21f" stroke="#1fb21f" stroke-width="0.6" vector-effect="non-scaling-stroke">A</text>
<text transform="translate(530.54 523.11) scale(0.00539 0.00299)" style="font-size:1000px;font-weight:bold" fill="#1d1de6" stroke="#1d1de6" stroke-width="0.6" vector-effect="non-scaling-stroke">C</text>
<text transform="translate(530.54 521.02) scale(0.00637 0.00308)" style="font-size:1000px;font-weight:bold" fill="#e2201c" stroke="#e2201c" stroke-width="0.6" vector-effect="non-scaling-stroke">T</text>
<text transform="translate(530.54 518.86) scale(0.00500 0.00449)" style="font-size:1000px;font-weight:bold" fill="#f6a31a" stroke="#f6a31a" stroke-width="0.6" vector-effect="non-scaling-stroke">G</text>
<text transform="translate(534.51 524.16) scale(0.00539 0.00449)" style="font-size:1000px;font-weight:bold" fill="#1d1de6" stroke="#1d1de6" stroke-width="0.6" vector-effect="non-scaling-stroke">C</text>
<text transform="translate(534.51 521.02) scale(0.00637 0.00616)" style="font-size:1000px;font-weight:bold" fill="#e2201c" stroke="#e2201c" stroke-width="0.6" vector-effect="non-scaling-stroke">T</text>
<text transform="translate(538.48 524.20) scale(0.00539 0.00154)" style="font-size:1000px;font-weight:bold" fill="#1fb21f" stroke="#1fb21f" stroke-width="0.6" vector-effect="non-scaling-stroke">A</text>
<text transform="translate(538.48 523.11) scale(0.00500 0.00299)" style="font-size:1000px;font-weight:bold" fill="#f6a31a" stroke="#f6a31a" stroke-width="0.6" vector-effect="non-scaling-stroke">G</text>
<text transform="translate(538.48 520.96) scale(0.00539 0.00599)" style="font-size:1000px;font-weight:bold" fill="#1d1de6" stroke="#1d1de6" stroke-width="0.6" vector-effect="non-scaling-stroke">C</text>
<text transform="translate(542.45 524.20) scale(0.00539 0.00462)" style="font-size:1000px;font-weight:bold" fill="#1fb21f" stroke="#1fb21f" stroke-width="0.6" vector-effect="non-scaling-stroke">A</text>
<text transform="translate(542.45 520.96) scale(0.00539 0.00599)" style="font-size:1000px;font-weight:bold" fill="#1d1de6" stroke="#1d1de6" stroke-width="0.6" vector-effect="non-scaling-stroke">C</text>
<text transform="translate(546.41 524.17) scale(0.00500 0.00299)" style="font-size:1000px;font-weight:bold" fill="#f6a31a" stroke="#f6a31a" stroke-width="0.6" vector-effect="non-scaling-stroke">G</text>
<text transform="translate(546.41 522.08) scale(0.00539 0.00770)" style="font-size:1000px;font-weight:bold" fill="#1fb21f" stroke="#1fb21f" stroke-width="0.6" vector-effect="non-scaling-stroke">A</text>
<text transform="translate(550.38 524.20) scale(0.00637 0.01387)" style="font-size:1000px;font-weight:bold" fill="#e2201c" stroke="#e2201c" stroke-width="0.6" vector-effect="non-scaling-stroke">T</text>
<text transform="translate(554.35 524.20) scale(0.00637 0.01387)" style="font-size:1000px;font-weight:bold" fill="#e2201c" stroke="#e2201c" stroke-width="0.6" vector-effect="non-scaling-stroke">T</text>
<text transform="translate(558.32 524.20) scale(0.00539 0.01387)" style="font-size:1000px;font-weight:bold" fill="#1fb21f" stroke="#1fb21f" stroke-width="0.6" vector-effect="non-scaling-stroke">A</text>
<text transform="translate(562.29 524.20) scale(0.00539 0.01387)" style="font-size:1000px;font-weight:bold" fill="#1fb21f" stroke="#1fb21f" stroke-width="0.6" vector-effect="non-scaling-stroke">A</text>
<text transform="translate(566.26 524.20) scale(0.00637 0.01387)" style="font-size:1000px;font-weight:bold" fill="#e2201c" stroke="#e2201c" stroke-width="0.6" vector-effect="non-scaling-stroke">T</text>
<text transform="translate(570.23 524.20) scale(0.00637 0.01387)" style="font-size:1000px;font-weight:bold" fill="#e2201c" stroke="#e2201c" stroke-width="0.6" vector-effect="non-scaling-stroke">T</text>
<text transform="translate(574.20 524.20) scale(0.00539 0.01078)" style="font-size:1000px;font-weight:bold" fill="#1fb21f" stroke="#1fb21f" stroke-width="0.6" vector-effect="non-scaling-stroke">A</text>
<text transform="translate(578.16 524.17) scale(0.00539 0.00299)" style="font-size:1000px;font-weight:bold" fill="#1d1de6" stroke="#1d1de6" stroke-width="0.6" vector-effect="non-scaling-stroke">C</text>
<text transform="translate(578.16 522.08) scale(0.00539 0.00616)" style="font-size:1000px;font-weight:bold" fill="#1fb21f" stroke="#1fb21f" stroke-width="0.6" vector-effect="non-scaling-stroke">A</text>
<text transform="translate(582.13 524.17) scale(0.00539 0.00299)" style="font-size:1000px;font-weight:bold" fill="#1d1de6" stroke="#1d1de6" stroke-width="0.6" vector-effect="non-scaling-stroke">C</text>
<text transform="translate(582.13 522.05) scale(0.00500 0.00299)" style="font-size:1000px;font-weight:bold" fill="#f6a31a" stroke="#f6a31a" stroke-width="0.6" vector-effect="non-scaling-stroke">G</text>
<text transform="translate(582.13 519.96) scale(0.00637 0.00462)" style="font-size:1000px;font-weight:bold" fill="#e2201c" stroke="#e2201c" stroke-width="0.6" vector-effect="non-scaling-stroke">T</text>
<text transform="translate(586.10 524.16) scale(0.00539 0.00449)" style="font-size:1000px;font-weight:bold" fill="#1d1de6" stroke="#1d1de6" stroke-width="0.6" vector-effect="non-scaling-stroke">C</text>
<text transform="translate(586.10 520.98) scale(0.00500 0.00449)" style="font-size:1000px;font-weight:bold" fill="#f6a31a" stroke="#f6a31a" stroke-width="0.6" vector-effect="non-scaling-stroke">G</text>
<text transform="translate(590.07 524.17) scale(0.00539 0.00299)" style="font-size:1000px;font-weight:bold" fill="#1d1de6" stroke="#1d1de6" stroke-width="0.6" vector-effect="non-scaling-stroke">C</text>
<text transform="translate(590.07 522.08) scale(0.00539 0.00770)" style="font-size:1000px;font-weight:bold" fill="#1fb21f" stroke="#1fb21f" stroke-width="0.6" vector-effect="non-scaling-stroke">A</text>
<text x="461.10" y="539.40" class="lab">NKX6-2:</text>
<text transform="translate(498.35 543.60) scale(0.00629 0.00206)" style="font-size:1000px;font-weight:bold" fill="#1fb21f" stroke="#1fb21f" stroke-width="0.6" vector-effect="non-scaling-stroke">A</text>
<text transform="translate(498.35 542.18) scale(0.00743 0.00413)" style="font-size:1000px;font-weight:bold" fill="#e2201c" stroke="#e2201c" stroke-width="0.6" vector-effect="non-scaling-stroke">T</text>
<text transform="translate(498.35 539.28) scale(0.00584 0.00602)" style="font-size:1000px;font-weight:bold" fill="#f6a31a" stroke="#f6a31a" stroke-width="0.6" vector-effect="non-scaling-stroke">G</text>
<text transform="translate(498.35 535.04) scale(0.00629 0.00401)" style="font-size:1000px;font-weight:bold" fill="#1d1de6" stroke="#1d1de6" stroke-width="0.6" vector-effect="non-scaling-stroke">C</text>
<text transform="translate(502.98 543.54) scale(0.00629 0.00602)" style="font-size:1000px;font-weight:bold" fill="#1d1de6" stroke="#1d1de6" stroke-width="0.6" vector-effect="non-scaling-stroke">C</text>
<text transform="translate(502.98 539.34) scale(0.00743 0.01032)" style="font-size:1000px;font-weight:bold" fill="#e2201c" stroke="#e2201c" stroke-width="0.6" vector-effect="non-scaling-stroke">T</text>
<text transform="translate(507.61 543.54) scale(0.00629 0.00602)" style="font-size:1000px;font-weight:bold" fill="#1d1de6" stroke="#1d1de6" stroke-width="0.6" vector-effect="non-scaling-stroke">C</text>
<text transform="translate(507.61 539.34) scale(0.00629 0.01032)" style="font-size:1000px;font-weight:bold" fill="#1fb21f" stroke="#1fb21f" stroke-width="0.6" vector-effect="non-scaling-stroke">A</text>
<text transform="translate(512.25 543.60) scale(0.00629 0.01651)" style="font-size:1000px;font-weight:bold" fill="#1fb21f" stroke="#1fb21f" stroke-width="0.6" vector-effect="non-scaling-stroke">A</text>
<text transform="translate(516.88 543.60) scale(0.00629 0.01858)" style="font-size:1000px;font-weight:bold" fill="#1fb21f" stroke="#1fb21f" stroke-width="0.6" vector-effect="non-scaling-stroke">A</text>
<text transform="translate(521.51 543.60) scale(0.00743 0.01858)" style="font-size:1000px;font-weight:bold" fill="#e2201c" stroke="#e2201c" stroke-width="0.6" vector-effect="non-scaling-stroke">T</text>
<text transform="translate(526.15 543.60) scale(0.00743 0.01858)" style="font-size:1000px;font-weight:bold" fill="#e2201c" stroke="#e2201c" stroke-width="0.6" vector-effect="non-scaling-stroke">T</text>
<text transform="translate(530.78 543.60) scale(0.00629 0.01651)" style="font-size:1000px;font-weight:bold" fill="#1fb21f" stroke="#1fb21f" stroke-width="0.6" vector-effect="non-scaling-stroke">A</text>
<text transform="translate(535.41 543.56) scale(0.00629 0.00401)" style="font-size:1000px;font-weight:bold" fill="#1d1de6" stroke="#1d1de6" stroke-width="0.6" vector-effect="non-scaling-stroke">C</text>
<text transform="translate(535.41 540.76) scale(0.00743 0.00206)" style="font-size:1000px;font-weight:bold" fill="#e2201c" stroke="#e2201c" stroke-width="0.6" vector-effect="non-scaling-stroke">T</text>
<text transform="translate(535.41 539.34) scale(0.00629 0.01032)" style="font-size:1000px;font-weight:bold" fill="#1fb21f" stroke="#1fb21f" stroke-width="0.6" vector-effect="non-scaling-stroke">A</text>
<text x="544.30" y="548.80" class="lab">DLX1:</text>
<text transform="translate(572.35 552.40) scale(0.00786 0.00427)" style="font-size:1000px;font-weight:bold" fill="#e2201c" stroke="#e2201c" stroke-width="0.6" vector-effect="non-scaling-stroke">T</text>
<text transform="translate(572.35 549.42) scale(0.00665 0.00415)" style="font-size:1000px;font-weight:bold" fill="#1d1de6" stroke="#1d1de6" stroke-width="0.6" vector-effect="non-scaling-stroke">C</text>
<text transform="translate(572.35 546.46) scale(0.00617 0.00623)" style="font-size:1000px;font-weight:bold" fill="#f6a31a" stroke="#f6a31a" stroke-width="0.6" vector-effect="non-scaling-stroke">G</text>
<text transform="translate(577.25 552.23) scale(0.00665 0.01661)" style="font-size:1000px;font-weight:bold" fill="#1d1de6" stroke="#1d1de6" stroke-width="0.6" vector-effect="non-scaling-stroke">C</text>
<text transform="translate(582.15 552.40) scale(0.00665 0.01709)" style="font-size:1000px;font-weight:bold" fill="#1fb21f" stroke="#1fb21f" stroke-width="0.6" vector-effect="non-scaling-stroke">A</text>
<text transform="translate(587.05 552.40) scale(0.00665 0.01923)" style="font-size:1000px;font-weight:bold" fill="#1fb21f" stroke="#1fb21f" stroke-width="0.6" vector-effect="non-scaling-stroke">A</text>
<text transform="translate(591.95 552.40) scale(0.00786 0.01923)" style="font-size:1000px;font-weight:bold" fill="#e2201c" stroke="#e2201c" stroke-width="0.6" vector-effect="non-scaling-stroke">T</text>
<text transform="translate(596.85 552.40) scale(0.00786 0.01923)" style="font-size:1000px;font-weight:bold" fill="#e2201c" stroke="#e2201c" stroke-width="0.6" vector-effect="non-scaling-stroke">T</text>
<text transform="translate(601.75 552.40) scale(0.00665 0.01923)" style="font-size:1000px;font-weight:bold" fill="#1fb21f" stroke="#1fb21f" stroke-width="0.6" vector-effect="non-scaling-stroke">A</text>
<text transform="translate(606.65 552.40) scale(0.00665 0.00641)" style="font-size:1000px;font-weight:bold" fill="#1fb21f" stroke="#1fb21f" stroke-width="0.6" vector-effect="non-scaling-stroke">A</text>
<text transform="translate(606.65 547.93) scale(0.00665 0.00623)" style="font-size:1000px;font-weight:bold" fill="#1d1de6" stroke="#1d1de6" stroke-width="0.6" vector-effect="non-scaling-stroke">C</text>
<text transform="translate(606.65 543.54) scale(0.00617 0.00415)" style="font-size:1000px;font-weight:bold" fill="#f6a31a" stroke="#f6a31a" stroke-width="0.6" vector-effect="non-scaling-stroke">G</text>
<text x="472.00" y="559.00" class="lab">PRRX1:</text>
<text transform="translate(508.35 563.40) scale(0.00691 0.00407)" style="font-size:1000px;font-weight:bold" fill="#1fb21f" stroke="#1fb21f" stroke-width="0.6" vector-effect="non-scaling-stroke">A</text>
<text transform="translate(508.35 560.60) scale(0.00816 0.00407)" style="font-size:1000px;font-weight:bold" fill="#e2201c" stroke="#e2201c" stroke-width="0.6" vector-effect="non-scaling-stroke">T</text>
<text transform="translate(508.35 557.74) scale(0.00691 0.00593)" style="font-size:1000px;font-weight:bold" fill="#1d1de6" stroke="#1d1de6" stroke-width="0.6" vector-effect="non-scaling-stroke">C</text>
<text transform="translate(513.44 563.32) scale(0.00691 0.00791)" style="font-size:1000px;font-weight:bold" fill="#1d1de6" stroke="#1d1de6" stroke-width="0.6" vector-effect="non-scaling-stroke">C</text>
<text transform="translate(513.44 557.80) scale(0.00816 0.00814)" style="font-size:1000px;font-weight:bold" fill="#e2201c" stroke="#e2201c" stroke-width="0.6" vector-effect="non-scaling-stroke">T</text>
<text transform="translate(518.53 563.40) scale(0.00691 0.01628)" style="font-size:1000px;font-weight:bold" fill="#1fb21f" stroke="#1fb21f" stroke-width="0.6" vector-effect="non-scaling-stroke">A</text>
<text transform="translate(523.61 563.40) scale(0.00691 0.01831)" style="font-size:1000px;font-weight:bold" fill="#1fb21f" stroke="#1fb21f" stroke-width="0.6" vector-effect="non-scaling-stroke">A</text>
<text transform="translate(528.70 563.40) scale(0.00816 0.01831)" style="font-size:1000px;font-weight:bold" fill="#e2201c" stroke="#e2201c" stroke-width="0.6" vector-effect="non-scaling-stroke">T</text>
<text transform="translate(533.79 563.40) scale(0.00816 0.01831)" style="font-size:1000px;font-weight:bold" fill="#e2201c" stroke="#e2201c" stroke-width="0.6" vector-effect="non-scaling-stroke">T</text>
<text transform="translate(538.88 563.40) scale(0.00691 0.01628)" style="font-size:1000px;font-weight:bold" fill="#1fb21f" stroke="#1fb21f" stroke-width="0.6" vector-effect="non-scaling-stroke">A</text>
<text transform="translate(543.96 563.36) scale(0.00691 0.00395)" style="font-size:1000px;font-weight:bold" fill="#1d1de6" stroke="#1d1de6" stroke-width="0.6" vector-effect="non-scaling-stroke">C</text>
<text transform="translate(543.96 560.56) scale(0.00641 0.00395)" style="font-size:1000px;font-weight:bold" fill="#f6a31a" stroke="#f6a31a" stroke-width="0.6" vector-effect="non-scaling-stroke">G</text>
<text transform="translate(543.96 557.80) scale(0.00691 0.00814)" style="font-size:1000px;font-weight:bold" fill="#1fb21f" stroke="#1fb21f" stroke-width="0.6" vector-effect="non-scaling-stroke">A</text>
<text x="474.20" y="576.60" class="lab">Dlx2:</text>
<text transform="translate(496.54 580.37) scale(0.00551 0.00311)" style="font-size:1000px;font-weight:bold" fill="#f6a31a" stroke="#f6a31a" stroke-width="0.6" vector-effect="non-scaling-stroke">G</text>
<text transform="translate(496.54 578.17) scale(0.00594 0.00311)" style="font-size:1000px;font-weight:bold" fill="#1d1de6" stroke="#1d1de6" stroke-width="0.6" vector-effect="non-scaling-stroke">C</text>
<text transform="translate(496.54 576.00) scale(0.00702 0.00320)" style="font-size:1000px;font-weight:bold" fill="#e2201c" stroke="#e2201c" stroke-width="0.6" vector-effect="non-scaling-stroke">T</text>
<text transform="translate(496.54 573.80) scale(0.00594 0.00480)" style="font-size:1000px;font-weight:bold" fill="#1fb21f" stroke="#1fb21f" stroke-width="0.6" vector-effect="non-scaling-stroke">A</text>
<text transform="translate(500.92 580.37) scale(0.00551 0.00311)" style="font-size:1000px;font-weight:bold" fill="#f6a31a" stroke="#f6a31a" stroke-width="0.6" vector-effect="non-scaling-stroke">G</text>
<text transform="translate(500.92 578.20) scale(0.00702 0.00480)" style="font-size:1000px;font-weight:bold" fill="#e2201c" stroke="#e2201c" stroke-width="0.6" vector-effect="non-scaling-stroke">T</text>
<text transform="translate(500.92 574.90) scale(0.00594 0.00480)" style="font-size:1000px;font-weight:bold" fill="#1fb21f" stroke="#1fb21f" stroke-width="0.6" vector-effect="non-scaling-stroke">A</text>
<text transform="translate(505.29 580.28) scale(0.00551 0.01243)" style="font-size:1000px;font-weight:bold" fill="#f6a31a" stroke="#f6a31a" stroke-width="0.6" vector-effect="non-scaling-stroke">G</text>
<text transform="translate(509.67 580.28) scale(0.00594 0.01243)" style="font-size:1000px;font-weight:bold" fill="#1d1de6" stroke="#1d1de6" stroke-width="0.6" vector-effect="non-scaling-stroke">C</text>
<text transform="translate(514.04 580.40) scale(0.00594 0.01279)" style="font-size:1000px;font-weight:bold" fill="#1fb21f" stroke="#1fb21f" stroke-width="0.6" vector-effect="non-scaling-stroke">A</text>
<text transform="translate(518.42 580.40) scale(0.00594 0.01439)" style="font-size:1000px;font-weight:bold" fill="#1fb21f" stroke="#1fb21f" stroke-width="0.6" vector-effect="non-scaling-stroke">A</text>
<text transform="translate(522.79 580.40) scale(0.00702 0.01439)" style="font-size:1000px;font-weight:bold" fill="#e2201c" stroke="#e2201c" stroke-width="0.6" vector-effect="non-scaling-stroke">T</text>
<text transform="translate(527.17 580.40) scale(0.00702 0.01439)" style="font-size:1000px;font-weight:bold" fill="#e2201c" stroke="#e2201c" stroke-width="0.6" vector-effect="non-scaling-stroke">T</text>
<text transform="translate(531.54 580.40) scale(0.00594 0.01279)" style="font-size:1000px;font-weight:bold" fill="#1fb21f" stroke="#1fb21f" stroke-width="0.6" vector-effect="non-scaling-stroke">A</text>
<text transform="translate(535.92 580.40) scale(0.00594 0.00320)" style="font-size:1000px;font-weight:bold" fill="#1fb21f" stroke="#1fb21f" stroke-width="0.6" vector-effect="non-scaling-stroke">A</text>
<text transform="translate(535.92 578.11) scale(0.00551 0.00932)" style="font-size:1000px;font-weight:bold" fill="#f6a31a" stroke="#f6a31a" stroke-width="0.6" vector-effect="non-scaling-stroke">G</text>
<text transform="translate(540.29 580.38) scale(0.00551 0.00155)" style="font-size:1000px;font-weight:bold" fill="#f6a31a" stroke="#f6a31a" stroke-width="0.6" vector-effect="non-scaling-stroke">G</text>
<text transform="translate(540.29 579.30) scale(0.00702 0.00320)" style="font-size:1000px;font-weight:bold" fill="#e2201c" stroke="#e2201c" stroke-width="0.6" vector-effect="non-scaling-stroke">T</text>
<text transform="translate(540.29 577.10) scale(0.00594 0.00480)" style="font-size:1000px;font-weight:bold" fill="#1fb21f" stroke="#1fb21f" stroke-width="0.6" vector-effect="non-scaling-stroke">A</text>
<text transform="translate(540.29 573.75) scale(0.00594 0.00466)" style="font-size:1000px;font-weight:bold" fill="#1d1de6" stroke="#1d1de6" stroke-width="0.6" vector-effect="non-scaling-stroke">C</text>
<text transform="translate(544.67 580.37) scale(0.00594 0.00311)" style="font-size:1000px;font-weight:bold" fill="#1d1de6" stroke="#1d1de6" stroke-width="0.6" vector-effect="non-scaling-stroke">C</text>
<text transform="translate(544.67 578.17) scale(0.00551 0.00311)" style="font-size:1000px;font-weight:bold" fill="#f6a31a" stroke="#f6a31a" stroke-width="0.6" vector-effect="non-scaling-stroke">G</text>
<text transform="translate(544.67 576.00) scale(0.00702 0.00320)" style="font-size:1000px;font-weight:bold" fill="#e2201c" stroke="#e2201c" stroke-width="0.6" vector-effect="non-scaling-stroke">T</text>
<text transform="translate(544.67 573.80) scale(0.00594 0.00480)" style="font-size:1000px;font-weight:bold" fill="#1fb21f" stroke="#1fb21f" stroke-width="0.6" vector-effect="non-scaling-stroke">A</text>
<text x="478.90" y="591.10" class="lab">DLX6:</text>
<text transform="translate(505.25 594.90) scale(0.00800 0.00192)" style="font-size:1000px;font-weight:bold" fill="#e2201c" stroke="#e2201c" stroke-width="0.6" vector-effect="non-scaling-stroke">T</text>
<text transform="translate(505.25 593.58) scale(0.00677 0.00384)" style="font-size:1000px;font-weight:bold" fill="#1fb21f" stroke="#1fb21f" stroke-width="0.6" vector-effect="non-scaling-stroke">A</text>
<text transform="translate(505.25 590.90) scale(0.00628 0.00373)" style="font-size:1000px;font-weight:bold" fill="#f6a31a" stroke="#f6a31a" stroke-width="0.6" vector-effect="non-scaling-stroke">G</text>
<text transform="translate(505.25 588.24) scale(0.00677 0.00559)" style="font-size:1000px;font-weight:bold" fill="#1d1de6" stroke="#1d1de6" stroke-width="0.6" vector-effect="non-scaling-stroke">C</text>
<text transform="translate(510.24 594.90) scale(0.00800 0.00576)" style="font-size:1000px;font-weight:bold" fill="#e2201c" stroke="#e2201c" stroke-width="0.6" vector-effect="non-scaling-stroke">T</text>
<text transform="translate(510.24 590.87) scale(0.00677 0.00746)" style="font-size:1000px;font-weight:bold" fill="#1d1de6" stroke="#1d1de6" stroke-width="0.6" vector-effect="non-scaling-stroke">C</text>
<text transform="translate(515.22 594.90) scale(0.00677 0.01727)" style="font-size:1000px;font-weight:bold" fill="#1fb21f" stroke="#1fb21f" stroke-width="0.6" vector-effect="non-scaling-stroke">A</text>
<text transform="translate(520.21 594.90) scale(0.00677 0.01727)" style="font-size:1000px;font-weight:bold" fill="#1fb21f" stroke="#1fb21f" stroke-width="0.6" vector-effect="non-scaling-stroke">A</text>
<text transform="translate(525.20 594.90) scale(0.00800 0.01727)" style="font-size:1000px;font-weight:bold" fill="#e2201c" stroke="#e2201c" stroke-width="0.6" vector-effect="non-scaling-stroke">T</text>
<text transform="translate(530.19 594.90) scale(0.00800 0.01727)" style="font-size:1000px;font-weight:bold" fill="#e2201c" stroke="#e2201c" stroke-width="0.6" vector-effect="non-scaling-stroke">T</text>
<text transform="translate(535.17 594.90) scale(0.00677 0.01727)" style="font-size:1000px;font-weight:bold" fill="#1fb21f" stroke="#1fb21f" stroke-width="0.6" vector-effect="non-scaling-stroke">A</text>
<text transform="translate(540.16 594.88) scale(0.00628 0.00186)" style="font-size:1000px;font-weight:bold" fill="#f6a31a" stroke="#f6a31a" stroke-width="0.6" vector-effect="non-scaling-stroke">G</text>
<text transform="translate(540.16 593.58) scale(0.00800 0.00384)" style="font-size:1000px;font-weight:bold" fill="#e2201c" stroke="#e2201c" stroke-width="0.6" vector-effect="non-scaling-stroke">T</text>
<text transform="translate(540.16 590.94) scale(0.00677 0.00576)" style="font-size:1000px;font-weight:bold" fill="#1fb21f" stroke="#1fb21f" stroke-width="0.6" vector-effect="non-scaling-stroke">A</text>
<text transform="translate(540.16 586.92) scale(0.00677 0.00559)" style="font-size:1000px;font-weight:bold" fill="#1d1de6" stroke="#1d1de6" stroke-width="0.6" vector-effect="non-scaling-stroke">C</text>
</svg></body></html>
